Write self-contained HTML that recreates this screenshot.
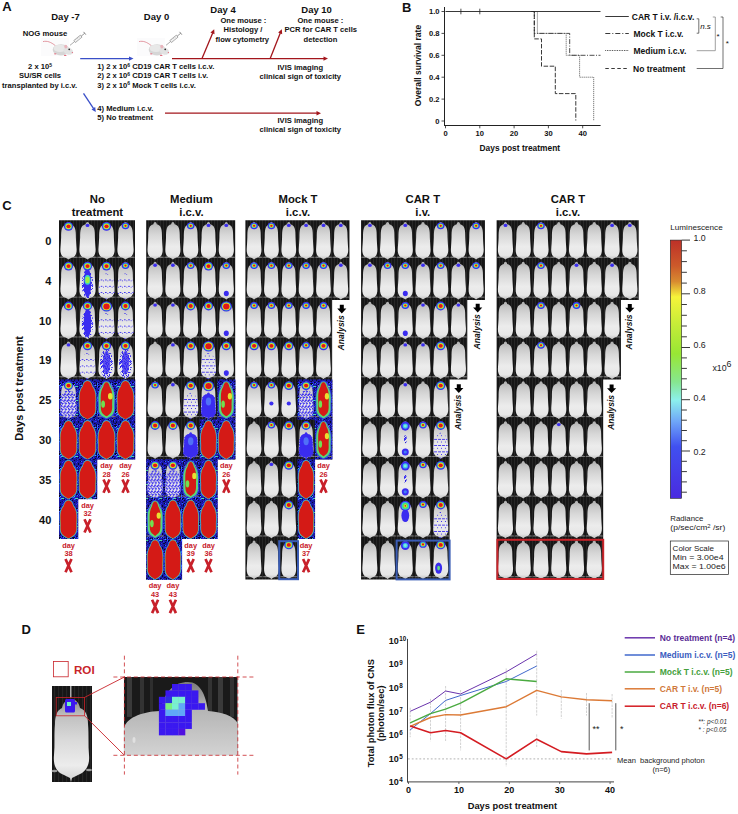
<!DOCTYPE html>
<html><head><meta charset="utf-8"><title>Figure</title>
<style>html,body{margin:0;padding:0;background:#fff;}svg{display:block;}text{font-family:"Liberation Sans",sans-serif;}</style>
</head><body>
<svg width="738" height="814" viewBox="0 0 738 814">
<defs><linearGradient id="mg" x1="0" y1="0" x2="0" y2="1"><stop offset="0" stop-color="#adadad"/><stop offset="0.15" stop-color="#c6c6c6"/><stop offset="0.35" stop-color="#d8d8d8"/><stop offset="0.65" stop-color="#ececec"/><stop offset="0.88" stop-color="#e6e6e6"/><stop offset="1" stop-color="#bebebe"/></linearGradient><symbol id="mouse" viewBox="0 0 100 100" preserveAspectRatio="none"><path d="M50 3 C55 3 58 5 60 9 C70 10 80 13 85 19 C90 26 90 34 90 42 C91 54 93 64 94 72 C95 82 90 89 78 93 C68 95 58 96 54 98 L50 100 L46 98 C42 96 32 95 22 93 C10 89 5 82 6 72 C7 64 9 54 10 42 C10 34 10 26 15 19 C20 13 30 10 40 9 C42 5 45 3 50 3 Z" fill="url(#mg)"/></symbol><symbol id="msil" viewBox="0 0 100 100" preserveAspectRatio="none"><path d="M50 3 C55 3 58 5 60 9 C70 10 80 13 85 19 C90 26 90 34 90 42 C91 54 93 64 94 72 C95 82 90 89 78 93 C68 95 58 96 54 98 L50 100 L46 98 C42 96 32 95 22 93 C10 89 5 82 6 72 C7 64 9 54 10 42 C10 34 10 26 15 19 C20 13 30 10 40 9 C42 5 45 3 50 3 Z"/></symbol><symbol id="rsil" viewBox="0 0 100 100" preserveAspectRatio="none"><path d="M50 2 C64 2 72 8 76 16 C88 22 95 32 95 46 C95 56 93 62 94 70 C96 84 84 92 64 96 L50 100 L36 96 C16 92 4 84 6 70 C7 62 5 56 5 46 C5 32 12 22 24 16 C28 8 36 2 50 2 Z"/></symbol><pattern id="spk" width="14" height="14" patternUnits="userSpaceOnUse" shape-rendering="crispEdges"><rect width="14" height="14" fill="#1a1aa4"/><rect x="8" y="2" width="1" height="1" fill="#0a0a30"/><rect x="9" y="7" width="1" height="1" fill="#3a3af8"/><rect x="1" y="9" width="1" height="1" fill="#3070ff"/><rect x="13" y="7" width="1" height="1" fill="#2c2cf0"/><rect x="3" y="3" width="1" height="1" fill="#0a0a30"/><rect x="7" y="8" width="1" height="1" fill="#50e0a0"/><rect x="7" y="6" width="1" height="1" fill="#2222d0"/><rect x="2" y="3" width="1" height="1" fill="#3070ff"/><rect x="13" y="8" width="1" height="1" fill="#3070ff"/><rect x="0" y="10" width="1" height="1" fill="#3a3af8"/><rect x="2" y="12" width="1" height="1" fill="#2222d0"/><rect x="0" y="4" width="1" height="1" fill="#101060"/><rect x="13" y="13" width="1" height="1" fill="#2222d0"/><rect x="9" y="11" width="1" height="1" fill="#0a0a30"/><rect x="6" y="11" width="1" height="1" fill="#101060"/><rect x="6" y="6" width="1" height="1" fill="#2222d0"/><rect x="9" y="7" width="1" height="1" fill="#2222d0"/><rect x="2" y="5" width="1" height="1" fill="#101060"/><rect x="2" y="7" width="1" height="1" fill="#2c2cf0"/><rect x="10" y="6" width="1" height="1" fill="#0a0a30"/><rect x="13" y="4" width="1" height="1" fill="#2222d0"/><rect x="13" y="6" width="1" height="1" fill="#3a3af8"/><rect x="8" y="9" width="1" height="1" fill="#06062a"/><rect x="3" y="5" width="1" height="1" fill="#3a3af8"/><rect x="0" y="13" width="1" height="1" fill="#3070ff"/><rect x="9" y="10" width="1" height="1" fill="#0a0a30"/><rect x="11" y="13" width="1" height="1" fill="#3070ff"/><rect x="8" y="9" width="1" height="1" fill="#0a0a30"/><rect x="11" y="10" width="1" height="1" fill="#06062a"/><rect x="13" y="9" width="1" height="1" fill="#0a0a30"/><rect x="1" y="1" width="1" height="1" fill="#0a0a30"/><rect x="10" y="7" width="1" height="1" fill="#3a3af8"/><rect x="12" y="1" width="1" height="1" fill="#2c2cf0"/><rect x="2" y="0" width="1" height="1" fill="#3a3af8"/><rect x="12" y="6" width="1" height="1" fill="#0a0a30"/><rect x="0" y="9" width="1" height="1" fill="#101060"/><rect x="0" y="6" width="1" height="1" fill="#06062a"/><rect x="5" y="8" width="1" height="1" fill="#40c0e0"/><rect x="4" y="8" width="1" height="1" fill="#101060"/><rect x="0" y="4" width="1" height="1" fill="#0a0a30"/><rect x="1" y="9" width="1" height="1" fill="#2c2cf0"/><rect x="3" y="6" width="1" height="1" fill="#06062a"/><rect x="4" y="2" width="1" height="1" fill="#0a0a30"/><rect x="13" y="5" width="1" height="1" fill="#3070ff"/><rect x="2" y="13" width="1" height="1" fill="#0a0a30"/><rect x="7" y="13" width="1" height="1" fill="#3a3af8"/><rect x="10" y="13" width="1" height="1" fill="#06062a"/><rect x="8" y="1" width="1" height="1" fill="#06062a"/><rect x="12" y="8" width="1" height="1" fill="#06062a"/><rect x="10" y="11" width="1" height="1" fill="#0a0a30"/><rect x="4" y="6" width="1" height="1" fill="#40c0e0"/><rect x="8" y="4" width="1" height="1" fill="#50e0a0"/><rect x="0" y="12" width="1" height="1" fill="#06062a"/><rect x="9" y="5" width="1" height="1" fill="#3a3af8"/><rect x="9" y="9" width="1" height="1" fill="#2c2cf0"/><rect x="0" y="10" width="1" height="1" fill="#3070ff"/><rect x="7" y="5" width="1" height="1" fill="#3070ff"/><rect x="5" y="9" width="1" height="1" fill="#3070ff"/><rect x="11" y="7" width="1" height="1" fill="#40c0e0"/><rect x="0" y="10" width="1" height="1" fill="#2c2cf0"/><rect x="5" y="4" width="1" height="1" fill="#2c2cf0"/><rect x="4" y="9" width="1" height="1" fill="#3070ff"/><rect x="2" y="5" width="1" height="1" fill="#06062a"/><rect x="12" y="5" width="1" height="1" fill="#0a0a30"/><rect x="4" y="4" width="1" height="1" fill="#2222d0"/><rect x="1" y="12" width="1" height="1" fill="#2222d0"/><rect x="9" y="10" width="1" height="1" fill="#2222d0"/><rect x="4" y="8" width="1" height="1" fill="#2222d0"/><rect x="12" y="4" width="1" height="1" fill="#0a0a30"/><rect x="2" y="10" width="1" height="1" fill="#0a0a30"/><rect x="11" y="1" width="1" height="1" fill="#3a3af8"/><rect x="5" y="5" width="1" height="1" fill="#2c2cf0"/><rect x="3" y="7" width="1" height="1" fill="#3070ff"/><rect x="2" y="1" width="1" height="1" fill="#2222d0"/><rect x="10" y="3" width="1" height="1" fill="#0a0a30"/><rect x="7" y="4" width="1" height="1" fill="#101060"/><rect x="1" y="0" width="1" height="1" fill="#0a0a30"/><rect x="3" y="5" width="1" height="1" fill="#06062a"/><rect x="13" y="9" width="1" height="1" fill="#2222d0"/><rect x="4" y="5" width="1" height="1" fill="#0a0a30"/><rect x="10" y="1" width="1" height="1" fill="#2222d0"/><rect x="5" y="9" width="1" height="1" fill="#2222d0"/><rect x="4" y="8" width="1" height="1" fill="#2c2cf0"/><rect x="4" y="7" width="1" height="1" fill="#2222d0"/><rect x="6" y="4" width="1" height="1" fill="#0a0a30"/><rect x="6" y="0" width="1" height="1" fill="#3a3af8"/><rect x="2" y="3" width="1" height="1" fill="#101060"/><rect x="13" y="9" width="1" height="1" fill="#2c2cf0"/><rect x="6" y="8" width="1" height="1" fill="#50e0a0"/><rect x="11" y="3" width="1" height="1" fill="#101060"/><rect x="7" y="13" width="1" height="1" fill="#2c2cf0"/><rect x="11" y="8" width="1" height="1" fill="#2222d0"/><rect x="8" y="5" width="1" height="1" fill="#101060"/><rect x="13" y="1" width="1" height="1" fill="#101060"/><rect x="4" y="1" width="1" height="1" fill="#101060"/><rect x="0" y="0" width="1" height="1" fill="#2222d0"/><rect x="11" y="8" width="1" height="1" fill="#101060"/><rect x="6" y="9" width="1" height="1" fill="#101060"/><rect x="7" y="11" width="1" height="1" fill="#2c2cf0"/><rect x="8" y="4" width="1" height="1" fill="#2c2cf0"/><rect x="0" y="8" width="1" height="1" fill="#0a0a30"/><rect x="0" y="9" width="1" height="1" fill="#06062a"/><rect x="2" y="4" width="1" height="1" fill="#2c2cf0"/><rect x="8" y="7" width="1" height="1" fill="#101060"/><rect x="0" y="5" width="1" height="1" fill="#2222d0"/><rect x="1" y="8" width="1" height="1" fill="#0a0a30"/><rect x="1" y="2" width="1" height="1" fill="#101060"/><rect x="4" y="12" width="1" height="1" fill="#0a0a30"/><rect x="0" y="7" width="1" height="1" fill="#2c2cf0"/><rect x="13" y="6" width="1" height="1" fill="#3070ff"/></pattern><pattern id="spl" width="23" height="23" patternUnits="userSpaceOnUse" shape-rendering="crispEdges"><rect x="19" y="8" width="1" height="1" fill="#3a2cf0"/><rect x="11" y="22" width="1" height="1" fill="#3a2cf0"/><rect x="20" y="16" width="1" height="1" fill="#3a2cf0"/><rect x="0" y="14" width="1" height="1" fill="#3a2cf0"/><rect x="7" y="20" width="1" height="1" fill="#3a2cf0"/><rect x="1" y="5" width="1" height="1" fill="#3a2cf0"/><rect x="3" y="11" width="1" height="1" fill="#3a2cf0"/><rect x="15" y="7" width="1" height="1" fill="#3a2cf0"/><rect x="12" y="17" width="1" height="1" fill="#3a2cf0"/><rect x="3" y="18" width="1" height="1" fill="#3a2cf0"/><rect x="7" y="0" width="1" height="1" fill="#3a2cf0"/><rect x="6" y="13" width="1" height="1" fill="#3a2cf0"/><rect x="8" y="5" width="1" height="1" fill="#3a2cf0"/><rect x="12" y="5" width="1" height="1" fill="#3a2cf0"/><rect x="2" y="4" width="1" height="1" fill="#3a2cf0"/><rect x="19" y="19" width="1" height="1" fill="#3a2cf0"/><rect x="14" y="4" width="1" height="1" fill="#3a2cf0"/><rect x="4" y="0" width="1" height="1" fill="#3a2cf0"/><rect x="0" y="6" width="1" height="1" fill="#3a2cf0"/><rect x="6" y="5" width="1" height="1" fill="#3a2cf0"/><rect x="5" y="9" width="1" height="1" fill="#3a2cf0"/><rect x="10" y="6" width="1" height="1" fill="#3a2cf0"/><rect x="17" y="21" width="1" height="1" fill="#3a2cf0"/><rect x="20" y="6" width="1" height="1" fill="#3a2cf0"/><rect x="5" y="22" width="1" height="1" fill="#3a2cf0"/><rect x="6" y="12" width="1" height="1" fill="#3a2cf0"/><rect x="9" y="0" width="1" height="1" fill="#3a2cf0"/><rect x="11" y="13" width="1" height="1" fill="#3a2cf0"/><rect x="5" y="4" width="1" height="1" fill="#3a2cf0"/><rect x="8" y="2" width="1" height="1" fill="#3a2cf0"/><rect x="10" y="9" width="1" height="1" fill="#3a2cf0"/><rect x="19" y="18" width="1" height="1" fill="#3a2cf0"/><rect x="0" y="19" width="1" height="1" fill="#3a2cf0"/><rect x="21" y="22" width="1" height="1" fill="#3a2cf0"/><rect x="10" y="2" width="1" height="1" fill="#3a2cf0"/><rect x="9" y="11" width="1" height="1" fill="#3a2cf0"/><rect x="9" y="15" width="1" height="1" fill="#3a2cf0"/><rect x="22" y="10" width="1" height="1" fill="#3a2cf0"/><rect x="5" y="15" width="1" height="1" fill="#3a2cf0"/><rect x="15" y="22" width="1" height="1" fill="#3a2cf0"/><rect x="5" y="1" width="1" height="1" fill="#3a2cf0"/><rect x="8" y="0" width="1" height="1" fill="#3a2cf0"/><rect x="11" y="12" width="1" height="1" fill="#3a2cf0"/><rect x="0" y="17" width="1" height="1" fill="#3a2cf0"/><rect x="13" y="11" width="1" height="1" fill="#3a2cf0"/><rect x="12" y="18" width="1" height="1" fill="#3a2cf0"/><rect x="0" y="14" width="1" height="1" fill="#3a2cf0"/><rect x="1" y="22" width="1" height="1" fill="#3a2cf0"/><rect x="5" y="19" width="1" height="1" fill="#3a2cf0"/><rect x="6" y="3" width="1" height="1" fill="#3a2cf0"/><rect x="7" y="14" width="1" height="1" fill="#3a2cf0"/><rect x="11" y="16" width="1" height="1" fill="#3a2cf0"/><rect x="11" y="16" width="1" height="1" fill="#3a2cf0"/><rect x="8" y="14" width="1" height="1" fill="#3a2cf0"/><rect x="3" y="18" width="1" height="1" fill="#3a2cf0"/><rect x="11" y="9" width="1" height="1" fill="#3a2cf0"/><rect x="1" y="13" width="1" height="1" fill="#3a2cf0"/><rect x="2" y="6" width="1" height="1" fill="#3a2cf0"/><rect x="10" y="16" width="1" height="1" fill="#3a2cf0"/><rect x="19" y="11" width="1" height="1" fill="#3a2cf0"/><rect x="4" y="10" width="1" height="1" fill="#3a2cf0"/><rect x="8" y="22" width="1" height="1" fill="#3a2cf0"/><rect x="17" y="2" width="1" height="1" fill="#3a2cf0"/><rect x="9" y="21" width="1" height="1" fill="#3a2cf0"/><rect x="10" y="9" width="1" height="1" fill="#3a2cf0"/><rect x="5" y="2" width="1" height="1" fill="#3a2cf0"/><rect x="20" y="4" width="1" height="1" fill="#3a2cf0"/><rect x="22" y="9" width="1" height="1" fill="#3a2cf0"/><rect x="15" y="5" width="1" height="1" fill="#3a2cf0"/><rect x="1" y="2" width="1" height="1" fill="#3a2cf0"/><rect x="19" y="17" width="1" height="1" fill="#3a2cf0"/><rect x="12" y="1" width="1" height="1" fill="#3a2cf0"/><rect x="7" y="19" width="1" height="1" fill="#3a2cf0"/><rect x="11" y="8" width="1" height="1" fill="#3a2cf0"/><rect x="14" y="20" width="1" height="1" fill="#3a2cf0"/></pattern><pattern id="spd" width="19" height="19" patternUnits="userSpaceOnUse" shape-rendering="crispEdges"><rect x="14" y="11" width="1" height="1" fill="#3a2cf0"/><rect x="4" y="5" width="1" height="1" fill="#3a2cf0"/><rect x="10" y="16" width="1" height="1" fill="#2a20d0"/><rect x="2" y="10" width="1" height="1" fill="#5050ff"/><rect x="1" y="12" width="1" height="1" fill="#3a2cf0"/><rect x="14" y="13" width="1" height="1" fill="#3a2cf0"/><rect x="5" y="7" width="1" height="1" fill="#3a2cf0"/><rect x="3" y="4" width="1" height="1" fill="#5050ff"/><rect x="18" y="2" width="1" height="1" fill="#2a20d0"/><rect x="3" y="9" width="1" height="1" fill="#3a2cf0"/><rect x="7" y="13" width="1" height="1" fill="#3a2cf0"/><rect x="8" y="6" width="1" height="1" fill="#2a20d0"/><rect x="8" y="10" width="1" height="1" fill="#3a2cf0"/><rect x="6" y="0" width="1" height="1" fill="#2a20d0"/><rect x="1" y="12" width="1" height="1" fill="#2a20d0"/><rect x="4" y="0" width="1" height="1" fill="#3a2cf0"/><rect x="13" y="3" width="1" height="1" fill="#5050ff"/><rect x="0" y="3" width="1" height="1" fill="#5050ff"/><rect x="6" y="6" width="1" height="1" fill="#3a2cf0"/><rect x="0" y="2" width="1" height="1" fill="#3a2cf0"/><rect x="17" y="0" width="1" height="1" fill="#5050ff"/><rect x="2" y="18" width="1" height="1" fill="#2a20d0"/><rect x="17" y="6" width="1" height="1" fill="#2a20d0"/><rect x="2" y="12" width="1" height="1" fill="#3a2cf0"/><rect x="2" y="18" width="1" height="1" fill="#3a2cf0"/><rect x="5" y="1" width="1" height="1" fill="#3a2cf0"/><rect x="8" y="17" width="1" height="1" fill="#5050ff"/><rect x="4" y="8" width="1" height="1" fill="#5050ff"/><rect x="1" y="3" width="1" height="1" fill="#2a20d0"/><rect x="7" y="5" width="1" height="1" fill="#5050ff"/><rect x="16" y="1" width="1" height="1" fill="#3a2cf0"/><rect x="16" y="18" width="1" height="1" fill="#5050ff"/><rect x="2" y="11" width="1" height="1" fill="#3a2cf0"/><rect x="18" y="11" width="1" height="1" fill="#2a20d0"/><rect x="6" y="12" width="1" height="1" fill="#3a2cf0"/><rect x="18" y="0" width="1" height="1" fill="#2a20d0"/><rect x="10" y="0" width="1" height="1" fill="#2a20d0"/><rect x="3" y="6" width="1" height="1" fill="#3a2cf0"/><rect x="14" y="8" width="1" height="1" fill="#3a2cf0"/><rect x="2" y="9" width="1" height="1" fill="#3a2cf0"/><rect x="3" y="16" width="1" height="1" fill="#3a2cf0"/><rect x="0" y="12" width="1" height="1" fill="#5050ff"/><rect x="13" y="15" width="1" height="1" fill="#3a2cf0"/><rect x="7" y="18" width="1" height="1" fill="#3a2cf0"/><rect x="13" y="7" width="1" height="1" fill="#3a2cf0"/><rect x="12" y="16" width="1" height="1" fill="#3a2cf0"/><rect x="17" y="11" width="1" height="1" fill="#3a2cf0"/><rect x="9" y="5" width="1" height="1" fill="#3a2cf0"/><rect x="0" y="1" width="1" height="1" fill="#3a2cf0"/><rect x="8" y="5" width="1" height="1" fill="#3a2cf0"/><rect x="4" y="0" width="1" height="1" fill="#3a2cf0"/><rect x="1" y="14" width="1" height="1" fill="#3a2cf0"/><rect x="12" y="9" width="1" height="1" fill="#5050ff"/><rect x="0" y="11" width="1" height="1" fill="#3a2cf0"/><rect x="4" y="15" width="1" height="1" fill="#5050ff"/><rect x="8" y="4" width="1" height="1" fill="#3a2cf0"/><rect x="17" y="9" width="1" height="1" fill="#3a2cf0"/><rect x="2" y="13" width="1" height="1" fill="#2a20d0"/><rect x="4" y="17" width="1" height="1" fill="#2a20d0"/><rect x="18" y="5" width="1" height="1" fill="#3a2cf0"/><rect x="15" y="11" width="1" height="1" fill="#3a2cf0"/><rect x="1" y="8" width="1" height="1" fill="#5050ff"/><rect x="4" y="5" width="1" height="1" fill="#3a2cf0"/><rect x="5" y="7" width="1" height="1" fill="#3a2cf0"/><rect x="6" y="5" width="1" height="1" fill="#2a20d0"/><rect x="14" y="18" width="1" height="1" fill="#5050ff"/><rect x="17" y="12" width="1" height="1" fill="#3a2cf0"/><rect x="5" y="17" width="1" height="1" fill="#2a20d0"/><rect x="18" y="8" width="1" height="1" fill="#5050ff"/><rect x="2" y="0" width="1" height="1" fill="#5050ff"/><rect x="18" y="13" width="1" height="1" fill="#5050ff"/><rect x="9" y="16" width="1" height="1" fill="#5050ff"/><rect x="17" y="2" width="1" height="1" fill="#5050ff"/><rect x="17" y="9" width="1" height="1" fill="#3a2cf0"/><rect x="7" y="4" width="1" height="1" fill="#3a2cf0"/><rect x="3" y="15" width="1" height="1" fill="#2a20d0"/><rect x="1" y="15" width="1" height="1" fill="#3a2cf0"/><rect x="0" y="11" width="1" height="1" fill="#3a2cf0"/><rect x="14" y="7" width="1" height="1" fill="#3a2cf0"/><rect x="18" y="15" width="1" height="1" fill="#3a2cf0"/><rect x="1" y="2" width="1" height="1" fill="#5050ff"/><rect x="1" y="13" width="1" height="1" fill="#2a20d0"/><rect x="18" y="2" width="1" height="1" fill="#3a2cf0"/><rect x="6" y="1" width="1" height="1" fill="#5050ff"/><rect x="5" y="2" width="1" height="1" fill="#3a2cf0"/><rect x="0" y="11" width="1" height="1" fill="#5050ff"/><rect x="15" y="17" width="1" height="1" fill="#5050ff"/><rect x="15" y="0" width="1" height="1" fill="#3a2cf0"/><rect x="10" y="2" width="1" height="1" fill="#3a2cf0"/><rect x="0" y="14" width="1" height="1" fill="#2a20d0"/><rect x="18" y="4" width="1" height="1" fill="#2a20d0"/><rect x="15" y="4" width="1" height="1" fill="#3a2cf0"/><rect x="11" y="7" width="1" height="1" fill="#2a20d0"/><rect x="4" y="6" width="1" height="1" fill="#3a2cf0"/><rect x="3" y="3" width="1" height="1" fill="#3a2cf0"/><rect x="3" y="2" width="1" height="1" fill="#3a2cf0"/><rect x="11" y="3" width="1" height="1" fill="#3a2cf0"/><rect x="14" y="16" width="1" height="1" fill="#3a2cf0"/><rect x="11" y="2" width="1" height="1" fill="#3a2cf0"/><rect x="0" y="8" width="1" height="1" fill="#5050ff"/><rect x="6" y="0" width="1" height="1" fill="#2a20d0"/><rect x="8" y="0" width="1" height="1" fill="#3a2cf0"/><rect x="16" y="13" width="1" height="1" fill="#3a2cf0"/><rect x="8" y="15" width="1" height="1" fill="#3a2cf0"/><rect x="7" y="1" width="1" height="1" fill="#3a2cf0"/><rect x="4" y="9" width="1" height="1" fill="#3a2cf0"/><rect x="5" y="11" width="1" height="1" fill="#2a20d0"/><rect x="0" y="9" width="1" height="1" fill="#3a2cf0"/><rect x="0" y="10" width="1" height="1" fill="#2a20d0"/><rect x="7" y="13" width="1" height="1" fill="#5050ff"/><rect x="10" y="15" width="1" height="1" fill="#5050ff"/><rect x="11" y="12" width="1" height="1" fill="#2a20d0"/><rect x="6" y="2" width="1" height="1" fill="#3a2cf0"/><rect x="9" y="14" width="1" height="1" fill="#2a20d0"/><rect x="18" y="14" width="1" height="1" fill="#2a20d0"/><rect x="12" y="5" width="1" height="1" fill="#3a2cf0"/><rect x="12" y="1" width="1" height="1" fill="#3a2cf0"/><rect x="2" y="5" width="1" height="1" fill="#3a2cf0"/><rect x="17" y="0" width="1" height="1" fill="#3a2cf0"/><rect x="6" y="11" width="1" height="1" fill="#3a2cf0"/><rect x="2" y="10" width="1" height="1" fill="#2a20d0"/><rect x="12" y="6" width="1" height="1" fill="#5050ff"/><rect x="10" y="2" width="1" height="1" fill="#3a2cf0"/><rect x="17" y="13" width="1" height="1" fill="#2a20d0"/><rect x="7" y="10" width="1" height="1" fill="#5050ff"/><rect x="16" y="3" width="1" height="1" fill="#2a20d0"/><rect x="0" y="9" width="1" height="1" fill="#5050ff"/><rect x="6" y="2" width="1" height="1" fill="#3a2cf0"/><rect x="0" y="10" width="1" height="1" fill="#3a2cf0"/><rect x="2" y="4" width="1" height="1" fill="#3a2cf0"/><rect x="5" y="3" width="1" height="1" fill="#5050ff"/><rect x="12" y="12" width="1" height="1" fill="#2a20d0"/><rect x="18" y="16" width="1" height="1" fill="#3a2cf0"/><rect x="16" y="11" width="1" height="1" fill="#3a2cf0"/><rect x="8" y="6" width="1" height="1" fill="#3a2cf0"/><rect x="12" y="18" width="1" height="1" fill="#3a2cf0"/><rect x="5" y="18" width="1" height="1" fill="#3a2cf0"/><rect x="0" y="9" width="1" height="1" fill="#3a2cf0"/><rect x="8" y="15" width="1" height="1" fill="#5050ff"/><rect x="13" y="2" width="1" height="1" fill="#3a2cf0"/><rect x="9" y="4" width="1" height="1" fill="#5050ff"/><rect x="14" y="15" width="1" height="1" fill="#3a2cf0"/><rect x="5" y="10" width="1" height="1" fill="#3a2cf0"/><rect x="11" y="1" width="1" height="1" fill="#5050ff"/><rect x="8" y="11" width="1" height="1" fill="#3a2cf0"/><rect x="18" y="5" width="1" height="1" fill="#5050ff"/><rect x="3" y="14" width="1" height="1" fill="#3a2cf0"/><rect x="10" y="6" width="1" height="1" fill="#5050ff"/><rect x="4" y="13" width="1" height="1" fill="#3a2cf0"/><rect x="16" y="6" width="1" height="1" fill="#5050ff"/><rect x="13" y="0" width="1" height="1" fill="#5050ff"/><rect x="1" y="11" width="1" height="1" fill="#2a20d0"/><rect x="11" y="1" width="1" height="1" fill="#3a2cf0"/><rect x="12" y="14" width="1" height="1" fill="#2a20d0"/><rect x="6" y="17" width="1" height="1" fill="#3a2cf0"/><rect x="5" y="18" width="1" height="1" fill="#3a2cf0"/><rect x="11" y="8" width="1" height="1" fill="#3a2cf0"/><rect x="15" y="16" width="1" height="1" fill="#3a2cf0"/><rect x="16" y="0" width="1" height="1" fill="#5050ff"/><rect x="10" y="7" width="1" height="1" fill="#3a2cf0"/><rect x="0" y="1" width="1" height="1" fill="#5050ff"/><rect x="18" y="6" width="1" height="1" fill="#3a2cf0"/><rect x="9" y="4" width="1" height="1" fill="#3a2cf0"/><rect x="9" y="12" width="1" height="1" fill="#3a2cf0"/><rect x="2" y="12" width="1" height="1" fill="#3a2cf0"/><rect x="14" y="14" width="1" height="1" fill="#3a2cf0"/><rect x="10" y="5" width="1" height="1" fill="#3a2cf0"/><rect x="18" y="6" width="1" height="1" fill="#5050ff"/><rect x="18" y="12" width="1" height="1" fill="#5050ff"/><rect x="4" y="12" width="1" height="1" fill="#3a2cf0"/><rect x="12" y="4" width="1" height="1" fill="#3a2cf0"/><rect x="13" y="15" width="1" height="1" fill="#3a2cf0"/><rect x="3" y="16" width="1" height="1" fill="#2a20d0"/><rect x="16" y="8" width="1" height="1" fill="#3a2cf0"/><rect x="11" y="11" width="1" height="1" fill="#5050ff"/><rect x="0" y="6" width="1" height="1" fill="#3a2cf0"/><rect x="16" y="14" width="1" height="1" fill="#3a2cf0"/><rect x="3" y="6" width="1" height="1" fill="#3a2cf0"/><rect x="6" y="14" width="1" height="1" fill="#3a2cf0"/><rect x="8" y="9" width="1" height="1" fill="#3a2cf0"/><rect x="7" y="0" width="1" height="1" fill="#3a2cf0"/><rect x="13" y="8" width="1" height="1" fill="#3a2cf0"/><rect x="11" y="10" width="1" height="1" fill="#5050ff"/><rect x="5" y="17" width="1" height="1" fill="#3a2cf0"/><rect x="4" y="6" width="1" height="1" fill="#3a2cf0"/><rect x="1" y="6" width="1" height="1" fill="#3a2cf0"/><rect x="8" y="14" width="1" height="1" fill="#3a2cf0"/><rect x="11" y="17" width="1" height="1" fill="#3a2cf0"/><rect x="3" y="13" width="1" height="1" fill="#2a20d0"/><rect x="5" y="1" width="1" height="1" fill="#3a2cf0"/><rect x="18" y="4" width="1" height="1" fill="#5050ff"/><rect x="18" y="13" width="1" height="1" fill="#3a2cf0"/><rect x="6" y="11" width="1" height="1" fill="#5050ff"/><rect x="16" y="13" width="1" height="1" fill="#3a2cf0"/><rect x="5" y="17" width="1" height="1" fill="#3a2cf0"/><rect x="8" y="14" width="1" height="1" fill="#3a2cf0"/><rect x="9" y="13" width="1" height="1" fill="#5050ff"/><rect x="13" y="3" width="1" height="1" fill="#3a2cf0"/><rect x="11" y="7" width="1" height="1" fill="#2a20d0"/><rect x="8" y="11" width="1" height="1" fill="#2a20d0"/></pattern><pattern id="bgp" width="3" height="40" patternUnits="userSpaceOnUse"><rect width="3" height="40" fill="#161616"/><rect x="1" width="1" height="40" fill="#262626"/></pattern></defs>
<rect width="738" height="814" fill="#fff"/>
<text x="2.3" y="10.9" font-size="13" font-weight="bold" text-anchor="start" fill="#111" >A</text><text x="65.5" y="20.3" font-size="9.5" font-weight="bold" text-anchor="middle" fill="#111" >Day -7</text><text x="156.5" y="20.3" font-size="9.5" font-weight="bold" text-anchor="middle" fill="#111" >Day 0</text><text x="223.0" y="13.2" font-size="9.5" font-weight="bold" text-anchor="middle" fill="#111" >Day 4</text><text x="316.6" y="13.2" font-size="9.5" font-weight="bold" text-anchor="middle" fill="#111" >Day 10</text><text x="45.0" y="36.0" font-size="7.7" font-weight="bold" text-anchor="middle" fill="#111" >NOG mouse</text><text x="40.0" y="69.2" font-size="7.6" font-weight="bold" text-anchor="middle" fill="#111" >2 x 10<tspan dy="-2.5" font-size="5">5</tspan></text><text x="40.0" y="78.3" font-size="7.6" font-weight="bold" text-anchor="middle" fill="#111" >SU/SR cells</text><text x="39.6" y="87.5" font-size="7.6" font-weight="bold" text-anchor="middle" fill="#111" >transplanted by i.c.v.</text><text x="97.3" y="69.3" font-size="7.6" font-weight="bold" text-anchor="start" fill="#111" >1) 2 x 10<tspan dy="-2.5" font-size="5">6</tspan><tspan dy="2.5"> CD19 CAR T cells i.c.v.</tspan></text><text x="97.3" y="78.3" font-size="7.6" font-weight="bold" text-anchor="start" fill="#111" >2) 2 x 10<tspan dy="-2.5" font-size="5">6</tspan><tspan dy="2.5"> CD19 CAR T cells i.v.</tspan></text><text x="97.3" y="87.5" font-size="7.6" font-weight="bold" text-anchor="start" fill="#111" >3) 2 x 10<tspan dy="-2.5" font-size="5">6</tspan><tspan dy="2.5"> Mock T cells i.c.v.</tspan></text><text x="97.3" y="111.1" font-size="7.6" font-weight="bold" text-anchor="start" fill="#111" >4) Medium i.c.v.</text><text x="97.3" y="120.0" font-size="7.6" font-weight="bold" text-anchor="start" fill="#111" >5) No treatment</text><text x="243.4" y="23.0" font-size="7.6" font-weight="bold" text-anchor="middle" fill="#111" >One mouse :</text><text x="243.0" y="32.4" font-size="7.6" font-weight="bold" text-anchor="middle" fill="#111" >Histology /</text><text x="242.3" y="41.5" font-size="7.6" font-weight="bold" text-anchor="middle" fill="#111" >flow cytometry</text><text x="320.4" y="23.0" font-size="7.6" font-weight="bold" text-anchor="middle" fill="#111" >One mouse :</text><text x="320.7" y="32.4" font-size="7.6" font-weight="bold" text-anchor="middle" fill="#111" >PCR for CAR T cells</text><text x="320.5" y="41.5" font-size="7.6" font-weight="bold" text-anchor="middle" fill="#111" >detection</text><text x="300.3" y="69.5" font-size="7.6" font-weight="bold" text-anchor="middle" fill="#111" >IVIS imaging</text><text x="300.3" y="78.6" font-size="7.6" font-weight="bold" text-anchor="middle" fill="#111" >clinical sign of toxicity</text><text x="300.3" y="123.0" font-size="7.6" font-weight="bold" text-anchor="middle" fill="#111" >IVIS imaging</text><text x="300.3" y="132.3" font-size="7.6" font-weight="bold" text-anchor="middle" fill="#111" >clinical sign of toxicity</text><line x1="80.2" y1="58.6" x2="129.5" y2="58.6" stroke="#3a4fc8" stroke-width="1.3" /><polygon points="133.5,58.6 129.0,60.8 129.0,56.4" fill="#3a4fc8"/><line x1="83.5" y1="93.3" x2="93.6" y2="108.7" stroke="#3a4fc8" stroke-width="1.3" /><polygon points="95.8,112.0 91.5,109.4 95.2,107.0" fill="#3a4fc8"/><line x1="172.0" y1="58.6" x2="324.0" y2="58.6" stroke="#a3161c" stroke-width="1.3" /><polygon points="328.0,58.6 323.5,60.8 323.5,56.4" fill="#a3161c"/><line x1="202.0" y1="58.6" x2="212.7" y2="32.9" stroke="#a3161c" stroke-width="1.3" /><polygon points="214.2,29.2 214.5,34.2 210.4,32.5" fill="#a3161c"/><line x1="270.2" y1="58.6" x2="280.3" y2="32.9" stroke="#a3161c" stroke-width="1.3" /><polygon points="281.8,29.2 282.2,34.2 278.1,32.6" fill="#a3161c"/><line x1="165.0" y1="113.2" x2="317.0" y2="113.2" stroke="#a3161c" stroke-width="1.3" /><polygon points="321.0,113.2 316.5,115.4 316.5,111.0" fill="#a3161c"/><g transform="translate(41,32)"><rect x="0" y="6" width="28" height="18" fill="#fbfbfc"/><path d="M2 9.6 C6 8.6 10 10 14.5 13.8" stroke="#d8707c" stroke-width="0.7" fill="none"/><ellipse cx="20" cy="17.8" rx="8.3" ry="5.6" fill="#d6d6d6"/><ellipse cx="19" cy="16.4" rx="6.2" ry="3.6" fill="#e8e8e8"/><ellipse cx="27.2" cy="19" rx="5" ry="3.6" fill="#e2e2e2" transform="rotate(22 27.2 19)"/><ellipse cx="24.8" cy="14.6" rx="1.5" ry="1.9" fill="#e9b4bc"/><circle cx="28.2" cy="17.4" r="0.8" fill="#222"/><circle cx="31.4" cy="20.6" r="0.7" fill="#e07080"/><ellipse cx="14.2" cy="21.8" rx="1.3" ry="0.6" fill="#e07080"/><ellipse cx="24.2" cy="23.4" rx="1.3" ry="0.6" fill="#e07080"/><g transform="translate(29,13.3) rotate(-39.3)"><line x1="0" y1="0" x2="6" y2="0" stroke="#555" stroke-width="0.45"/><rect x="6" y="-1.3" width="8.5" height="2.6" fill="#f2f2f2" stroke="#707070" stroke-width="0.5"/><path d="M8 -1.3 v1.2 M10 -1.3 v1.2 M12 -1.3 v1.2" stroke="#888" stroke-width="0.35"/><line x1="14.5" y1="0" x2="19" y2="0" stroke="#777" stroke-width="0.7"/><line x1="19" y1="-1.8" x2="19" y2="1.8" stroke="#777" stroke-width="0.8"/></g></g><g transform="translate(137,32)"><rect x="0" y="6" width="28" height="18" fill="#fbfbfc"/><path d="M2 9.6 C6 8.6 10 10 14.5 13.8" stroke="#d8707c" stroke-width="0.7" fill="none"/><ellipse cx="20" cy="17.8" rx="8.3" ry="5.6" fill="#d6d6d6"/><ellipse cx="19" cy="16.4" rx="6.2" ry="3.6" fill="#e8e8e8"/><ellipse cx="27.2" cy="19" rx="5" ry="3.6" fill="#e2e2e2" transform="rotate(22 27.2 19)"/><ellipse cx="24.8" cy="14.6" rx="1.5" ry="1.9" fill="#e9b4bc"/><circle cx="28.2" cy="17.4" r="0.8" fill="#222"/><circle cx="31.4" cy="20.6" r="0.7" fill="#e07080"/><ellipse cx="14.2" cy="21.8" rx="1.3" ry="0.6" fill="#e07080"/><ellipse cx="24.2" cy="23.4" rx="1.3" ry="0.6" fill="#e07080"/><g transform="translate(29,13.3) rotate(-39.3)"><line x1="0" y1="0" x2="6" y2="0" stroke="#555" stroke-width="0.45"/><rect x="6" y="-1.3" width="8.5" height="2.6" fill="#f2f2f2" stroke="#707070" stroke-width="0.5"/><path d="M8 -1.3 v1.2 M10 -1.3 v1.2 M12 -1.3 v1.2" stroke="#888" stroke-width="0.35"/><line x1="14.5" y1="0" x2="19" y2="0" stroke="#777" stroke-width="0.7"/><line x1="19" y1="-1.8" x2="19" y2="1.8" stroke="#777" stroke-width="0.8"/></g></g><text x="402.0" y="12.2" font-size="13" font-weight="bold" text-anchor="start" fill="#111" >B</text><line x1="444.5" y1="7.0" x2="444.5" y2="125.7" stroke="#222" stroke-width="1" /><line x1="444.0" y1="125.5" x2="600.6" y2="125.5" stroke="#222" stroke-width="1" /><line x1="441.5" y1="121.0" x2="444.5" y2="121.0" stroke="#222" stroke-width="0.8" /><text x="439.5" y="123.6" font-size="7.6" font-weight="bold" text-anchor="end" fill="#111" >0</text><line x1="441.5" y1="99.1" x2="444.5" y2="99.1" stroke="#222" stroke-width="0.8" /><text x="439.5" y="101.7" font-size="7.6" font-weight="bold" text-anchor="end" fill="#111" >0.2</text><line x1="441.5" y1="77.2" x2="444.5" y2="77.2" stroke="#222" stroke-width="0.8" /><text x="439.5" y="79.8" font-size="7.6" font-weight="bold" text-anchor="end" fill="#111" >0.4</text><line x1="441.5" y1="55.3" x2="444.5" y2="55.3" stroke="#222" stroke-width="0.8" /><text x="439.5" y="57.9" font-size="7.6" font-weight="bold" text-anchor="end" fill="#111" >0.6</text><line x1="441.5" y1="33.4" x2="444.5" y2="33.4" stroke="#222" stroke-width="0.8" /><text x="439.5" y="36.0" font-size="7.6" font-weight="bold" text-anchor="end" fill="#111" >0.8</text><line x1="441.5" y1="11.5" x2="444.5" y2="11.5" stroke="#222" stroke-width="0.8" /><text x="439.5" y="14.1" font-size="7.6" font-weight="bold" text-anchor="end" fill="#111" >1.0</text><line x1="445.5" y1="125.5" x2="445.5" y2="128.3" stroke="#222" stroke-width="0.8" /><text x="445.5" y="135.5" font-size="7.6" font-weight="bold" text-anchor="middle" fill="#111" >0</text><line x1="479.8" y1="125.5" x2="479.8" y2="128.3" stroke="#222" stroke-width="0.8" /><text x="479.8" y="135.5" font-size="7.6" font-weight="bold" text-anchor="middle" fill="#111" >10</text><line x1="514.1" y1="125.5" x2="514.1" y2="128.3" stroke="#222" stroke-width="0.8" /><text x="514.1" y="135.5" font-size="7.6" font-weight="bold" text-anchor="middle" fill="#111" >20</text><line x1="548.4" y1="125.5" x2="548.4" y2="128.3" stroke="#222" stroke-width="0.8" /><text x="548.4" y="135.5" font-size="7.6" font-weight="bold" text-anchor="middle" fill="#111" >30</text><line x1="582.7" y1="125.5" x2="582.7" y2="128.3" stroke="#222" stroke-width="0.8" /><text x="582.7" y="135.5" font-size="7.6" font-weight="bold" text-anchor="middle" fill="#111" >40</text><text x="519.8" y="150.9" font-size="8.4" font-weight="bold" text-anchor="middle" fill="#111" >Days post treatment</text><text transform="translate(421.2,65.5) rotate(-90)" font-size="8.5" font-weight="bold" text-anchor="middle" fill="#111">Overall survival rate</text><path d="M445.5 11.5 H600.5" stroke="#222" stroke-width="0.9" fill="none"/><line x1="460.9" y1="8.7" x2="460.9" y2="14.3" stroke="#222" stroke-width="0.8" /><line x1="479.8" y1="8.7" x2="479.8" y2="14.3" stroke="#222" stroke-width="0.8" /><path d="M531.2 11.5 H534.3 V38.9 H541.5 V66.2 H555.3 V93.6 H575.8 V120.5" stroke="#222" stroke-width="0.9" fill="none" stroke-dasharray="4.5,1.6"/><path d="M534.3 11.5 V33.4 H569.7 V55.3 H600.5" stroke="#222" stroke-width="0.8" fill="none" stroke-dasharray="5,1.5,1,1.5"/><path d="M537.4 11.5 V33.4 H566.2 V55.3 H579.6 V77.2 H593.7 V120.5" stroke="#333" stroke-width="0.8" fill="none" stroke-dasharray="1,1"/><line x1="605.3" y1="16.5" x2="628.8" y2="16.5" stroke="#222" stroke-width="0.9" /><text x="631.8" y="19.5" font-size="8.5" font-weight="bold" text-anchor="start" fill="#111" >CAR T i.v. /i.c.v.</text><line x1="605.3" y1="33.5" x2="628.8" y2="33.5" stroke="#222" stroke-width="0.9" stroke-dasharray="5,2,1,2"/><text x="633.5" y="36.5" font-size="8.5" font-weight="bold" text-anchor="start" fill="#111" >Mock T i.c.v.</text><line x1="605.3" y1="50.5" x2="628.8" y2="50.5" stroke="#222" stroke-width="0.9" stroke-dasharray="0.8,0.9"/><text x="633.5" y="53.5" font-size="8.5" font-weight="bold" text-anchor="start" fill="#111" >Medium i.c.v.</text><line x1="605.3" y1="68.5" x2="628.8" y2="68.5" stroke="#222" stroke-width="0.9" stroke-dasharray="3.5,2.5"/><text x="633.0" y="71.5" font-size="8.5" font-weight="bold" text-anchor="start" fill="#111" >No treatment</text><path d="M696.7 18.8 H698.8 V33.2 H696.7" stroke="#333" stroke-width="0.7" fill="none"/><text x="700.2" y="28.8" font-size="8.0"  text-anchor="start" fill="#111" font-style="italic">n.s</text><path d="M712.8 17 H715.3 V50.7 H696.7" stroke="#888" stroke-width="0.8" fill="none"/><text x="716.6" y="38.5" font-size="8"  text-anchor="start" fill="#111" >*</text><path d="M720.7 17 H723 V68.5 H696.7" stroke="#333" stroke-width="0.7" fill="none"/><text x="725.8" y="45.8" font-size="8"  text-anchor="start" fill="#111" >*</text>
<text x="2.2" y="210.2" font-size="13" font-weight="bold" fill="#111">C</text><text x="97.4" y="203" font-size="11.3" font-weight="bold" text-anchor="middle" fill="#111">No</text><text x="97.4" y="216.4" font-size="11.3" font-weight="bold" text-anchor="middle" fill="#111">treatment</text><path d="M59.00 220.20 L135.00 220.20 L135.00 260.00 L135.00 260.00 L135.00 299.90 L135.00 299.90 L135.00 339.70 L135.00 339.70 L135.00 379.50 L135.00 379.50 L135.00 419.40 L135.00 419.40 L135.00 459.20 L97.00 459.20 L97.00 498.90 L78.00 498.90 L78.00 538.70 L59.00 538.70 Z" fill="url(#bgp)"/><ellipse cx="62.04" cy="257.21" rx="3.04" ry="0.7" fill="#7a7a7a"/><ellipse cx="74.96" cy="257.21" rx="3.04" ry="0.7" fill="#7a7a7a"/><use href="#mouse" x="59.30" y="220.80" width="18.40" height="39.00"/><ellipse cx="68.5" cy="226.3" rx="4.6" ry="4.4" fill="#3a2cf0"/><ellipse cx="68.5" cy="226.3" rx="3.5" ry="3.3" fill="#30d8a0"/><ellipse cx="68.5" cy="226.3" rx="2.8" ry="2.6" fill="#f0e020"/><ellipse cx="68.5" cy="226.3" rx="2.1" ry="1.9" fill="#e01818"/><ellipse cx="81.04" cy="257.21" rx="3.04" ry="0.7" fill="#7a7a7a"/><ellipse cx="93.96" cy="257.21" rx="3.04" ry="0.7" fill="#7a7a7a"/><use href="#mouse" x="78.30" y="220.80" width="18.40" height="39.00"/><ellipse cx="87.5" cy="225.4" rx="1.9" ry="1.7" fill="#3a2cf0"/><ellipse cx="100.04" cy="257.21" rx="3.04" ry="0.7" fill="#7a7a7a"/><ellipse cx="112.96" cy="257.21" rx="3.04" ry="0.7" fill="#7a7a7a"/><use href="#mouse" x="97.30" y="220.80" width="18.40" height="39.00"/><ellipse cx="106.5" cy="226.3" rx="4.6" ry="4.4" fill="#3a2cf0"/><ellipse cx="106.5" cy="226.3" rx="3.5" ry="3.3" fill="#30d8a0"/><ellipse cx="106.5" cy="226.3" rx="2.8" ry="2.6" fill="#f0e020"/><ellipse cx="106.5" cy="226.3" rx="2.1" ry="1.9" fill="#e01818"/><ellipse cx="119.04" cy="257.21" rx="3.04" ry="0.7" fill="#7a7a7a"/><ellipse cx="131.96" cy="257.21" rx="3.04" ry="0.7" fill="#7a7a7a"/><use href="#mouse" x="116.30" y="220.80" width="18.40" height="39.00"/><ellipse cx="125.5" cy="225.8" rx="3.8" ry="3.4" fill="#3a2cf0"/><ellipse cx="125.5" cy="225.8" rx="2.6" ry="2.3" fill="#30d8b0"/><ellipse cx="125.5" cy="225.8" rx="1.9" ry="1.7" fill="#f0e020"/><ellipse cx="125.5" cy="225.8" rx="1.2" ry="1.1" fill="#e01818"/><ellipse cx="62.04" cy="297.11" rx="3.04" ry="0.7" fill="#7a7a7a"/><ellipse cx="74.96" cy="297.11" rx="3.04" ry="0.7" fill="#7a7a7a"/><use href="#mouse" x="59.30" y="260.60" width="18.40" height="39.10"/><ellipse cx="68.5" cy="266.1" rx="4.6" ry="4.4" fill="#3a2cf0"/><ellipse cx="68.5" cy="266.1" rx="3.5" ry="3.3" fill="#30d8a0"/><ellipse cx="68.5" cy="266.1" rx="2.8" ry="2.6" fill="#f0e020"/><ellipse cx="68.5" cy="266.1" rx="2.1" ry="1.9" fill="#e01818"/><ellipse cx="81.04" cy="297.11" rx="3.04" ry="0.7" fill="#7a7a7a"/><ellipse cx="93.96" cy="297.11" rx="3.04" ry="0.7" fill="#7a7a7a"/><use href="#mouse" x="78.30" y="260.60" width="18.40" height="39.10"/><ellipse cx="87.5" cy="283.9" rx="5.7" ry="14.4" fill="url(#spd)"/><ellipse cx="87.5" cy="283.1" rx="3.8" ry="14.4" fill="#3a2cf0"/><ellipse cx="87.5" cy="279.9" rx="3.0" ry="4.8" fill="#40d8c0"/><ellipse cx="87.5" cy="279.9" rx="2.1" ry="3.2" fill="#a0f040"/><ellipse cx="87.5" cy="266.1" rx="4.6" ry="4.4" fill="#3a2cf0"/><ellipse cx="87.5" cy="266.1" rx="3.5" ry="3.3" fill="#30d8a0"/><ellipse cx="87.5" cy="266.1" rx="2.8" ry="2.6" fill="#f0e020"/><ellipse cx="87.5" cy="266.1" rx="2.1" ry="1.9" fill="#e01818"/><ellipse cx="100.04" cy="297.11" rx="3.04" ry="0.7" fill="#7a7a7a"/><ellipse cx="112.96" cy="297.11" rx="3.04" ry="0.7" fill="#7a7a7a"/><use href="#mouse" x="97.30" y="260.60" width="18.40" height="39.10"/><use href="#msil" x="97.30" y="272.33" width="18.40" height="27.37" fill="url(#spl)"/><ellipse cx="106.5" cy="266.1" rx="4.6" ry="4.4" fill="#3a2cf0"/><ellipse cx="106.5" cy="266.1" rx="3.5" ry="3.3" fill="#30d8a0"/><ellipse cx="106.5" cy="266.1" rx="2.8" ry="2.6" fill="#f0e020"/><ellipse cx="106.5" cy="266.1" rx="2.1" ry="1.9" fill="#e01818"/><ellipse cx="119.04" cy="297.11" rx="3.04" ry="0.7" fill="#7a7a7a"/><ellipse cx="131.96" cy="297.11" rx="3.04" ry="0.7" fill="#7a7a7a"/><use href="#mouse" x="116.30" y="260.60" width="18.40" height="39.10"/><use href="#msil" x="116.30" y="272.33" width="18.40" height="27.37" fill="url(#spl)"/><ellipse cx="125.5" cy="265.6" rx="3.8" ry="3.4" fill="#3a2cf0"/><ellipse cx="125.5" cy="265.6" rx="2.6" ry="2.3" fill="#30d8b0"/><ellipse cx="125.5" cy="265.6" rx="1.9" ry="1.7" fill="#f0e020"/><ellipse cx="125.5" cy="265.6" rx="1.2" ry="1.1" fill="#e01818"/><ellipse cx="62.04" cy="336.91" rx="3.04" ry="0.7" fill="#7a7a7a"/><ellipse cx="74.96" cy="336.91" rx="3.04" ry="0.7" fill="#7a7a7a"/><use href="#mouse" x="59.30" y="300.50" width="18.40" height="39.00"/><ellipse cx="68.5" cy="306.0" rx="4.6" ry="4.4" fill="#3a2cf0"/><ellipse cx="68.5" cy="306.0" rx="3.5" ry="3.3" fill="#30d8a0"/><ellipse cx="68.5" cy="306.0" rx="2.8" ry="2.6" fill="#f0e020"/><ellipse cx="68.5" cy="306.0" rx="2.1" ry="1.9" fill="#e01818"/><ellipse cx="81.04" cy="336.91" rx="3.04" ry="0.7" fill="#7a7a7a"/><ellipse cx="93.96" cy="336.91" rx="3.04" ry="0.7" fill="#7a7a7a"/><use href="#mouse" x="78.30" y="300.50" width="18.40" height="39.00"/><ellipse cx="87.5" cy="323.8" rx="5.7" ry="14.3" fill="url(#spd)"/><ellipse cx="87.5" cy="323.0" rx="3.8" ry="14.3" fill="#3a2cf0"/><ellipse cx="87.5" cy="306.0" rx="4.6" ry="4.4" fill="#3a2cf0"/><ellipse cx="87.5" cy="306.0" rx="3.5" ry="3.3" fill="#30d8a0"/><ellipse cx="87.5" cy="306.0" rx="2.8" ry="2.6" fill="#f0e020"/><ellipse cx="87.5" cy="306.0" rx="2.1" ry="1.9" fill="#e01818"/><ellipse cx="100.04" cy="336.91" rx="3.04" ry="0.7" fill="#7a7a7a"/><ellipse cx="112.96" cy="336.91" rx="3.04" ry="0.7" fill="#7a7a7a"/><use href="#mouse" x="97.30" y="300.50" width="18.40" height="39.00"/><use href="#msil" x="97.30" y="312.20" width="18.40" height="27.30" fill="url(#spl)"/><ellipse cx="106.5" cy="306.4" rx="5.6" ry="5.2" fill="#3a2cf0"/><ellipse cx="106.5" cy="306.4" rx="4.5" ry="4.2" fill="#30d8a0"/><ellipse cx="106.5" cy="306.4" rx="3.9" ry="3.6" fill="#f0e020"/><ellipse cx="106.5" cy="306.4" rx="3.2" ry="3.0" fill="#e01818"/><ellipse cx="119.04" cy="336.91" rx="3.04" ry="0.7" fill="#7a7a7a"/><ellipse cx="131.96" cy="336.91" rx="3.04" ry="0.7" fill="#7a7a7a"/><use href="#mouse" x="116.30" y="300.50" width="18.40" height="39.00"/><use href="#msil" x="116.30" y="312.20" width="18.40" height="27.30" fill="url(#spl)"/><ellipse cx="125.5" cy="306.0" rx="4.6" ry="4.4" fill="#3a2cf0"/><ellipse cx="125.5" cy="306.0" rx="3.5" ry="3.3" fill="#30d8a0"/><ellipse cx="125.5" cy="306.0" rx="2.8" ry="2.6" fill="#f0e020"/><ellipse cx="125.5" cy="306.0" rx="2.1" ry="1.9" fill="#e01818"/><ellipse cx="62.04" cy="376.71" rx="3.04" ry="0.7" fill="#7a7a7a"/><ellipse cx="74.96" cy="376.71" rx="3.04" ry="0.7" fill="#7a7a7a"/><use href="#mouse" x="59.30" y="340.30" width="18.40" height="39.00"/><ellipse cx="68.5" cy="344.9" rx="1.9" ry="1.7" fill="#3a2cf0"/><ellipse cx="81.04" cy="376.71" rx="3.04" ry="0.7" fill="#7a7a7a"/><ellipse cx="93.96" cy="376.71" rx="3.04" ry="0.7" fill="#7a7a7a"/><use href="#mouse" x="78.30" y="340.30" width="18.40" height="39.00"/><use href="#msil" x="78.30" y="352.00" width="18.40" height="27.30" fill="url(#spl)"/><ellipse cx="87.5" cy="345.8" rx="4.6" ry="4.4" fill="#3a2cf0"/><ellipse cx="87.5" cy="345.8" rx="3.5" ry="3.3" fill="#30d8a0"/><ellipse cx="87.5" cy="345.8" rx="2.8" ry="2.6" fill="#f0e020"/><ellipse cx="87.5" cy="345.8" rx="2.1" ry="1.9" fill="#e01818"/><ellipse cx="100.04" cy="376.71" rx="3.04" ry="0.7" fill="#7a7a7a"/><ellipse cx="112.96" cy="376.71" rx="3.04" ry="0.7" fill="#7a7a7a"/><use href="#mouse" x="97.30" y="340.30" width="18.40" height="39.00"/><ellipse cx="106.5" cy="363.6" rx="6.5" ry="14.3" fill="url(#spd)"/><ellipse cx="106.5" cy="362.8" rx="3.8" ry="11.9" fill="#3a2cf0" opacity="0.8"/><ellipse cx="106.5" cy="345.8" rx="4.6" ry="4.4" fill="#3a2cf0"/><ellipse cx="106.5" cy="345.8" rx="3.5" ry="3.3" fill="#30d8a0"/><ellipse cx="106.5" cy="345.8" rx="2.8" ry="2.6" fill="#f0e020"/><ellipse cx="106.5" cy="345.8" rx="2.1" ry="1.9" fill="#e01818"/><ellipse cx="119.04" cy="376.71" rx="3.04" ry="0.7" fill="#7a7a7a"/><ellipse cx="131.96" cy="376.71" rx="3.04" ry="0.7" fill="#7a7a7a"/><use href="#mouse" x="116.30" y="340.30" width="18.40" height="39.00"/><ellipse cx="125.5" cy="363.6" rx="6.5" ry="14.3" fill="url(#spd)"/><ellipse cx="125.5" cy="362.8" rx="3.8" ry="11.9" fill="#3a2cf0" opacity="0.8"/><ellipse cx="125.5" cy="345.8" rx="4.6" ry="4.4" fill="#3a2cf0"/><ellipse cx="125.5" cy="345.8" rx="3.5" ry="3.3" fill="#30d8a0"/><ellipse cx="125.5" cy="345.8" rx="2.8" ry="2.6" fill="#f0e020"/><ellipse cx="125.5" cy="345.8" rx="2.1" ry="1.9" fill="#e01818"/><rect x="59.00" y="379.50" width="19.30" height="40.20" fill="url(#spk)"/><ellipse cx="62.04" cy="416.61" rx="3.04" ry="0.7" fill="#7a7a7a"/><ellipse cx="74.96" cy="416.61" rx="3.04" ry="0.7" fill="#7a7a7a"/><use href="#mouse" x="59.30" y="380.10" width="18.40" height="39.10"/><use href="#msil" x="59.30" y="387.92" width="18.40" height="31.28" fill="url(#spd)"/><ellipse cx="68.5" cy="385.6" rx="4.6" ry="4.4" fill="#3a2cf0"/><ellipse cx="68.5" cy="385.6" rx="3.5" ry="3.3" fill="#30d8a0"/><ellipse cx="68.5" cy="385.6" rx="2.8" ry="2.6" fill="#f0e020"/><ellipse cx="68.5" cy="385.6" rx="2.1" ry="1.9" fill="#e01818"/><rect x="78.00" y="379.50" width="19.30" height="40.20" fill="url(#spk)"/><use href="#rsil" x="77.40" y="379.30" width="20.20" height="40.70" fill="#2a70e8"/><use href="#rsil" x="78.00" y="379.80" width="19.00" height="39.90" fill="#60d890"/><use href="#rsil" x="78.50" y="380.30" width="18.00" height="38.90" fill="#d41a16"/><rect x="97.00" y="379.50" width="19.30" height="40.20" fill="url(#spk)"/><ellipse cx="100.04" cy="416.61" rx="3.04" ry="0.7" fill="#7a7a7a"/><ellipse cx="112.96" cy="416.61" rx="3.04" ry="0.7" fill="#7a7a7a"/><use href="#mouse" x="97.30" y="380.10" width="18.40" height="39.10"/><use href="#rsil" x="96.70" y="379.80" width="19.60" height="39.90" fill="#3040e8"/><use href="#rsil" x="97.60" y="380.70" width="17.80" height="37.90" fill="#58d878"/><use href="#rsil" x="100.04" y="381.50" width="12.92" height="35.11" fill="#d41a16"/><ellipse cx="110.3" cy="396.3" rx="2.3" ry="3.2" fill="#e8e030"/><ellipse cx="103.1" cy="404.2" rx="1.9" ry="3.6" fill="#70e050"/><rect x="116.00" y="379.50" width="19.30" height="40.20" fill="url(#spk)"/><use href="#rsil" x="115.40" y="379.30" width="20.20" height="40.70" fill="#2a70e8"/><use href="#rsil" x="116.00" y="379.80" width="19.00" height="39.90" fill="#60d890"/><use href="#rsil" x="116.50" y="380.30" width="18.00" height="38.90" fill="#d41a16"/><rect x="59.00" y="419.40" width="19.30" height="40.10" fill="url(#spk)"/><use href="#rsil" x="58.40" y="419.20" width="20.20" height="40.60" fill="#2a70e8"/><use href="#rsil" x="59.00" y="419.70" width="19.00" height="39.80" fill="#60d890"/><use href="#rsil" x="59.50" y="420.20" width="18.00" height="38.80" fill="#d41a16"/><rect x="78.00" y="419.40" width="19.30" height="40.10" fill="url(#spk)"/><use href="#rsil" x="77.40" y="419.20" width="20.20" height="40.60" fill="#2a70e8"/><use href="#rsil" x="78.00" y="419.70" width="19.00" height="39.80" fill="#60d890"/><use href="#rsil" x="78.50" y="420.20" width="18.00" height="38.80" fill="#d41a16"/><rect x="97.00" y="419.40" width="19.30" height="40.10" fill="url(#spk)"/><use href="#rsil" x="96.40" y="419.20" width="20.20" height="40.60" fill="#2a70e8"/><use href="#rsil" x="97.00" y="419.70" width="19.00" height="39.80" fill="#60d890"/><use href="#rsil" x="97.50" y="420.20" width="18.00" height="38.80" fill="#d41a16"/><rect x="116.00" y="419.40" width="19.30" height="40.10" fill="url(#spk)"/><use href="#rsil" x="115.40" y="419.20" width="20.20" height="40.60" fill="#2a70e8"/><use href="#rsil" x="116.00" y="419.70" width="19.00" height="39.80" fill="#60d890"/><use href="#rsil" x="116.50" y="420.20" width="18.00" height="38.80" fill="#d41a16"/><rect x="59.00" y="459.20" width="19.30" height="40.00" fill="url(#spk)"/><use href="#rsil" x="58.40" y="459.00" width="20.20" height="40.50" fill="#2a70e8"/><use href="#rsil" x="59.00" y="459.50" width="19.00" height="39.70" fill="#60d890"/><use href="#rsil" x="59.50" y="460.00" width="18.00" height="38.70" fill="#d41a16"/><rect x="78.00" y="459.20" width="19.30" height="40.00" fill="url(#spk)"/><use href="#rsil" x="77.40" y="459.00" width="20.20" height="40.50" fill="#2a70e8"/><use href="#rsil" x="78.00" y="459.50" width="19.00" height="39.70" fill="#60d890"/><use href="#rsil" x="78.50" y="460.00" width="18.00" height="38.70" fill="#d41a16"/><rect x="59.00" y="498.90" width="19.30" height="40.10" fill="url(#spk)"/><use href="#rsil" x="58.40" y="498.70" width="20.20" height="40.60" fill="#2a70e8"/><use href="#rsil" x="59.00" y="499.20" width="19.00" height="39.80" fill="#60d890"/><use href="#rsil" x="59.50" y="499.70" width="18.00" height="38.80" fill="#d41a16"/><text x="191.4" y="203" font-size="11.3" font-weight="bold" text-anchor="middle" fill="#111">Medium</text><text x="191.4" y="216.4" font-size="11.3" font-weight="bold" text-anchor="middle" fill="#111">i.c.v.</text><path d="M146.20 220.20 L235.20 220.20 L235.20 260.00 L235.20 260.00 L235.20 299.90 L235.20 299.90 L235.20 339.70 L235.20 339.70 L235.20 379.50 L235.20 379.50 L235.20 419.40 L235.20 419.40 L235.20 459.20 L217.40 459.20 L217.40 498.90 L217.40 498.90 L217.40 538.70 L181.80 538.70 L181.80 579.50 L146.20 579.50 Z" fill="url(#bgp)"/><ellipse cx="149.05" cy="257.21" rx="2.85" ry="0.7" fill="#7a7a7a"/><ellipse cx="161.15" cy="257.21" rx="2.85" ry="0.7" fill="#7a7a7a"/><use href="#mouse" x="146.50" y="220.80" width="17.20" height="39.00"/><ellipse cx="166.85" cy="257.21" rx="2.85" ry="0.7" fill="#7a7a7a"/><ellipse cx="178.95" cy="257.21" rx="2.85" ry="0.7" fill="#7a7a7a"/><use href="#mouse" x="164.30" y="220.80" width="17.20" height="39.00"/><ellipse cx="184.65" cy="257.21" rx="2.85" ry="0.7" fill="#7a7a7a"/><ellipse cx="196.75" cy="257.21" rx="2.85" ry="0.7" fill="#7a7a7a"/><use href="#mouse" x="182.10" y="220.80" width="17.20" height="39.00"/><ellipse cx="190.7" cy="225.8" rx="3.8" ry="3.4" fill="#3a2cf0"/><ellipse cx="190.7" cy="225.8" rx="2.6" ry="2.3" fill="#30d8b0"/><ellipse cx="190.7" cy="225.8" rx="1.9" ry="1.7" fill="#f0e020"/><ellipse cx="190.7" cy="225.8" rx="1.2" ry="1.1" fill="#e01818"/><ellipse cx="202.45" cy="257.21" rx="2.85" ry="0.7" fill="#7a7a7a"/><ellipse cx="214.55" cy="257.21" rx="2.85" ry="0.7" fill="#7a7a7a"/><use href="#mouse" x="199.90" y="220.80" width="17.20" height="39.00"/><ellipse cx="208.5" cy="225.4" rx="1.9" ry="1.7" fill="#3a2cf0"/><ellipse cx="220.25" cy="257.21" rx="2.85" ry="0.7" fill="#7a7a7a"/><ellipse cx="232.35" cy="257.21" rx="2.85" ry="0.7" fill="#7a7a7a"/><use href="#mouse" x="217.70" y="220.80" width="17.20" height="39.00"/><ellipse cx="226.3" cy="225.4" rx="1.9" ry="1.7" fill="#3a2cf0"/><ellipse cx="149.05" cy="297.11" rx="2.85" ry="0.7" fill="#7a7a7a"/><ellipse cx="161.15" cy="297.11" rx="2.85" ry="0.7" fill="#7a7a7a"/><use href="#mouse" x="146.50" y="260.60" width="17.20" height="39.10"/><ellipse cx="155.1" cy="265.2" rx="1.9" ry="1.7" fill="#3a2cf0"/><ellipse cx="166.85" cy="297.11" rx="2.85" ry="0.7" fill="#7a7a7a"/><ellipse cx="178.95" cy="297.11" rx="2.85" ry="0.7" fill="#7a7a7a"/><use href="#mouse" x="164.30" y="260.60" width="17.20" height="39.10"/><ellipse cx="172.9" cy="265.2" rx="1.9" ry="1.7" fill="#3a2cf0"/><ellipse cx="184.65" cy="297.11" rx="2.85" ry="0.7" fill="#7a7a7a"/><ellipse cx="196.75" cy="297.11" rx="2.85" ry="0.7" fill="#7a7a7a"/><use href="#mouse" x="182.10" y="260.60" width="17.20" height="39.10"/><ellipse cx="190.7" cy="265.6" rx="3.8" ry="3.4" fill="#3a2cf0"/><ellipse cx="190.7" cy="265.6" rx="2.6" ry="2.3" fill="#30d8b0"/><ellipse cx="190.7" cy="265.6" rx="1.9" ry="1.7" fill="#f0e020"/><ellipse cx="190.7" cy="265.6" rx="1.2" ry="1.1" fill="#e01818"/><ellipse cx="202.45" cy="297.11" rx="2.85" ry="0.7" fill="#7a7a7a"/><ellipse cx="214.55" cy="297.11" rx="2.85" ry="0.7" fill="#7a7a7a"/><use href="#mouse" x="199.90" y="260.60" width="17.20" height="39.10"/><ellipse cx="208.5" cy="266.1" rx="4.6" ry="4.4" fill="#3a2cf0"/><ellipse cx="208.5" cy="266.1" rx="3.5" ry="3.3" fill="#30d8a0"/><ellipse cx="208.5" cy="266.1" rx="2.8" ry="2.6" fill="#f0e020"/><ellipse cx="208.5" cy="266.1" rx="2.1" ry="1.9" fill="#e01818"/><ellipse cx="220.25" cy="297.11" rx="2.85" ry="0.7" fill="#7a7a7a"/><ellipse cx="232.35" cy="297.11" rx="2.85" ry="0.7" fill="#7a7a7a"/><use href="#mouse" x="217.70" y="260.60" width="17.20" height="39.10"/><ellipse cx="226.3" cy="293.5" rx="2.5" ry="2.8" fill="#3a2cf0"/><ellipse cx="226.3" cy="265.6" rx="3.8" ry="3.4" fill="#3a2cf0"/><ellipse cx="226.3" cy="265.6" rx="2.6" ry="2.3" fill="#30d8b0"/><ellipse cx="226.3" cy="265.6" rx="1.9" ry="1.7" fill="#f0e020"/><ellipse cx="226.3" cy="265.6" rx="1.2" ry="1.1" fill="#e01818"/><ellipse cx="149.05" cy="336.91" rx="2.85" ry="0.7" fill="#7a7a7a"/><ellipse cx="161.15" cy="336.91" rx="2.85" ry="0.7" fill="#7a7a7a"/><use href="#mouse" x="146.50" y="300.50" width="17.20" height="39.00"/><ellipse cx="155.1" cy="305.1" rx="1.9" ry="1.7" fill="#3a2cf0"/><ellipse cx="166.85" cy="336.91" rx="2.85" ry="0.7" fill="#7a7a7a"/><ellipse cx="178.95" cy="336.91" rx="2.85" ry="0.7" fill="#7a7a7a"/><use href="#mouse" x="164.30" y="300.50" width="17.20" height="39.00"/><ellipse cx="172.9" cy="305.1" rx="1.9" ry="1.7" fill="#3a2cf0"/><ellipse cx="184.65" cy="336.91" rx="2.85" ry="0.7" fill="#7a7a7a"/><ellipse cx="196.75" cy="336.91" rx="2.85" ry="0.7" fill="#7a7a7a"/><use href="#mouse" x="182.10" y="300.50" width="17.20" height="39.00"/><ellipse cx="190.7" cy="306.0" rx="4.6" ry="4.4" fill="#3a2cf0"/><ellipse cx="190.7" cy="306.0" rx="3.5" ry="3.3" fill="#30d8a0"/><ellipse cx="190.7" cy="306.0" rx="2.8" ry="2.6" fill="#f0e020"/><ellipse cx="190.7" cy="306.0" rx="2.1" ry="1.9" fill="#e01818"/><ellipse cx="202.45" cy="336.91" rx="2.85" ry="0.7" fill="#7a7a7a"/><ellipse cx="214.55" cy="336.91" rx="2.85" ry="0.7" fill="#7a7a7a"/><use href="#mouse" x="199.90" y="300.50" width="17.20" height="39.00"/><ellipse cx="208.5" cy="306.0" rx="4.6" ry="4.4" fill="#3a2cf0"/><ellipse cx="208.5" cy="306.0" rx="3.5" ry="3.3" fill="#30d8a0"/><ellipse cx="208.5" cy="306.0" rx="2.8" ry="2.6" fill="#f0e020"/><ellipse cx="208.5" cy="306.0" rx="2.1" ry="1.9" fill="#e01818"/><ellipse cx="220.25" cy="336.91" rx="2.85" ry="0.7" fill="#7a7a7a"/><ellipse cx="232.35" cy="336.91" rx="2.85" ry="0.7" fill="#7a7a7a"/><use href="#mouse" x="217.70" y="300.50" width="17.20" height="39.00"/><ellipse cx="226.3" cy="333.3" rx="2.5" ry="2.8" fill="#3a2cf0"/><ellipse cx="226.3" cy="306.4" rx="5.6" ry="5.2" fill="#3a2cf0"/><ellipse cx="226.3" cy="306.4" rx="4.5" ry="4.2" fill="#30d8a0"/><ellipse cx="226.3" cy="306.4" rx="3.9" ry="3.6" fill="#f0e020"/><ellipse cx="226.3" cy="306.4" rx="3.2" ry="3.0" fill="#e01818"/><ellipse cx="149.05" cy="376.71" rx="2.85" ry="0.7" fill="#7a7a7a"/><ellipse cx="161.15" cy="376.71" rx="2.85" ry="0.7" fill="#7a7a7a"/><use href="#mouse" x="146.50" y="340.30" width="17.20" height="39.00"/><ellipse cx="166.85" cy="376.71" rx="2.85" ry="0.7" fill="#7a7a7a"/><ellipse cx="178.95" cy="376.71" rx="2.85" ry="0.7" fill="#7a7a7a"/><use href="#mouse" x="164.30" y="340.30" width="17.20" height="39.00"/><ellipse cx="172.9" cy="344.9" rx="1.9" ry="1.7" fill="#3a2cf0"/><ellipse cx="184.65" cy="376.71" rx="2.85" ry="0.7" fill="#7a7a7a"/><ellipse cx="196.75" cy="376.71" rx="2.85" ry="0.7" fill="#7a7a7a"/><use href="#mouse" x="182.10" y="340.30" width="17.20" height="39.00"/><ellipse cx="190.7" cy="345.8" rx="4.6" ry="4.4" fill="#3a2cf0"/><ellipse cx="190.7" cy="345.8" rx="3.5" ry="3.3" fill="#30d8a0"/><ellipse cx="190.7" cy="345.8" rx="2.8" ry="2.6" fill="#f0e020"/><ellipse cx="190.7" cy="345.8" rx="2.1" ry="1.9" fill="#e01818"/><ellipse cx="202.45" cy="376.71" rx="2.85" ry="0.7" fill="#7a7a7a"/><ellipse cx="214.55" cy="376.71" rx="2.85" ry="0.7" fill="#7a7a7a"/><use href="#mouse" x="199.90" y="340.30" width="17.20" height="39.00"/><use href="#msil" x="199.90" y="352.00" width="17.20" height="27.30" fill="url(#spl)"/><ellipse cx="208.5" cy="346.2" rx="5.6" ry="5.2" fill="#3a2cf0"/><ellipse cx="208.5" cy="346.2" rx="4.5" ry="4.2" fill="#30d8a0"/><ellipse cx="208.5" cy="346.2" rx="3.9" ry="3.6" fill="#f0e020"/><ellipse cx="208.5" cy="346.2" rx="3.2" ry="3.0" fill="#e01818"/><ellipse cx="220.25" cy="376.71" rx="2.85" ry="0.7" fill="#7a7a7a"/><ellipse cx="232.35" cy="376.71" rx="2.85" ry="0.7" fill="#7a7a7a"/><use href="#mouse" x="217.70" y="340.30" width="17.20" height="39.00"/><ellipse cx="226.3" cy="373.1" rx="2.5" ry="2.8" fill="#3a2cf0"/><ellipse cx="226.3" cy="345.8" rx="4.6" ry="4.4" fill="#3a2cf0"/><ellipse cx="226.3" cy="345.8" rx="3.5" ry="3.3" fill="#30d8a0"/><ellipse cx="226.3" cy="345.8" rx="2.8" ry="2.6" fill="#f0e020"/><ellipse cx="226.3" cy="345.8" rx="2.1" ry="1.9" fill="#e01818"/><ellipse cx="149.05" cy="416.61" rx="2.85" ry="0.7" fill="#7a7a7a"/><ellipse cx="161.15" cy="416.61" rx="2.85" ry="0.7" fill="#7a7a7a"/><use href="#mouse" x="146.50" y="380.10" width="17.20" height="39.10"/><ellipse cx="155.1" cy="385.1" rx="3.8" ry="3.4" fill="#3a2cf0"/><ellipse cx="155.1" cy="385.1" rx="2.6" ry="2.3" fill="#30d8b0"/><ellipse cx="155.1" cy="385.1" rx="1.9" ry="1.7" fill="#f0e020"/><ellipse cx="155.1" cy="385.1" rx="1.2" ry="1.1" fill="#e01818"/><ellipse cx="166.85" cy="416.61" rx="2.85" ry="0.7" fill="#7a7a7a"/><ellipse cx="178.95" cy="416.61" rx="2.85" ry="0.7" fill="#7a7a7a"/><use href="#mouse" x="164.30" y="380.10" width="17.20" height="39.10"/><ellipse cx="172.9" cy="384.7" rx="1.9" ry="1.7" fill="#3a2cf0"/><ellipse cx="184.65" cy="416.61" rx="2.85" ry="0.7" fill="#7a7a7a"/><ellipse cx="196.75" cy="416.61" rx="2.85" ry="0.7" fill="#7a7a7a"/><use href="#mouse" x="182.10" y="380.10" width="17.20" height="39.10"/><use href="#msil" x="182.10" y="391.83" width="17.20" height="27.37" fill="url(#spl)"/><ellipse cx="190.7" cy="385.6" rx="4.6" ry="4.4" fill="#3a2cf0"/><ellipse cx="190.7" cy="385.6" rx="3.5" ry="3.3" fill="#30d8a0"/><ellipse cx="190.7" cy="385.6" rx="2.8" ry="2.6" fill="#f0e020"/><ellipse cx="190.7" cy="385.6" rx="2.1" ry="1.9" fill="#e01818"/><ellipse cx="202.45" cy="416.61" rx="2.85" ry="0.7" fill="#7a7a7a"/><ellipse cx="214.55" cy="416.61" rx="2.85" ry="0.7" fill="#7a7a7a"/><use href="#mouse" x="199.90" y="380.10" width="17.20" height="39.10"/><use href="#msil" x="199.60" y="391.83" width="17.80" height="28.15" fill="url(#spd)"/><use href="#msil" x="200.40" y="391.83" width="16.20" height="26.59" fill="#3a2cf0"/><ellipse cx="208.5" cy="401.4" rx="2.7" ry="4.0" fill="#5070f8"/><ellipse cx="208.5" cy="386.0" rx="5.6" ry="5.2" fill="#3a2cf0"/><ellipse cx="208.5" cy="386.0" rx="4.5" ry="4.2" fill="#30d8a0"/><ellipse cx="208.5" cy="386.0" rx="3.9" ry="3.6" fill="#f0e020"/><ellipse cx="208.5" cy="386.0" rx="3.2" ry="3.0" fill="#e01818"/><rect x="217.40" y="379.50" width="18.10" height="40.20" fill="url(#spk)"/><ellipse cx="220.25" cy="416.61" rx="2.85" ry="0.7" fill="#7a7a7a"/><ellipse cx="232.35" cy="416.61" rx="2.85" ry="0.7" fill="#7a7a7a"/><use href="#mouse" x="217.70" y="380.10" width="17.20" height="39.10"/><use href="#rsil" x="217.10" y="379.80" width="18.40" height="39.90" fill="#3040e8"/><use href="#rsil" x="218.00" y="380.70" width="16.60" height="37.90" fill="#58d878"/><use href="#rsil" x="220.25" y="381.50" width="12.10" height="35.11" fill="#d41a16"/><ellipse cx="229.9" cy="396.3" rx="2.1" ry="3.2" fill="#e8e030"/><ellipse cx="223.1" cy="404.2" rx="1.8" ry="3.6" fill="#70e050"/><ellipse cx="149.05" cy="456.41" rx="2.85" ry="0.7" fill="#7a7a7a"/><ellipse cx="161.15" cy="456.41" rx="2.85" ry="0.7" fill="#7a7a7a"/><use href="#mouse" x="146.50" y="420.00" width="17.20" height="39.00"/><ellipse cx="155.1" cy="425.5" rx="4.6" ry="4.4" fill="#3a2cf0"/><ellipse cx="155.1" cy="425.5" rx="3.5" ry="3.3" fill="#30d8a0"/><ellipse cx="155.1" cy="425.5" rx="2.8" ry="2.6" fill="#f0e020"/><ellipse cx="155.1" cy="425.5" rx="2.1" ry="1.9" fill="#e01818"/><ellipse cx="166.85" cy="456.41" rx="2.85" ry="0.7" fill="#7a7a7a"/><ellipse cx="178.95" cy="456.41" rx="2.85" ry="0.7" fill="#7a7a7a"/><use href="#mouse" x="164.30" y="420.00" width="17.20" height="39.00"/><ellipse cx="172.9" cy="425.5" rx="4.6" ry="4.4" fill="#3a2cf0"/><ellipse cx="172.9" cy="425.5" rx="3.5" ry="3.3" fill="#30d8a0"/><ellipse cx="172.9" cy="425.5" rx="2.8" ry="2.6" fill="#f0e020"/><ellipse cx="172.9" cy="425.5" rx="2.1" ry="1.9" fill="#e01818"/><ellipse cx="184.65" cy="456.41" rx="2.85" ry="0.7" fill="#7a7a7a"/><ellipse cx="196.75" cy="456.41" rx="2.85" ry="0.7" fill="#7a7a7a"/><use href="#mouse" x="182.10" y="420.00" width="17.20" height="39.00"/><use href="#msil" x="181.80" y="431.70" width="17.80" height="28.08" fill="url(#spd)"/><use href="#msil" x="182.60" y="431.70" width="16.20" height="26.52" fill="#3a2cf0"/><ellipse cx="190.7" cy="441.3" rx="2.7" ry="4.0" fill="#5070f8"/><ellipse cx="190.7" cy="425.5" rx="4.6" ry="4.4" fill="#3a2cf0"/><ellipse cx="190.7" cy="425.5" rx="3.5" ry="3.3" fill="#30d8a0"/><ellipse cx="190.7" cy="425.5" rx="2.8" ry="2.6" fill="#f0e020"/><ellipse cx="190.7" cy="425.5" rx="2.1" ry="1.9" fill="#e01818"/><rect x="199.60" y="419.40" width="18.10" height="40.10" fill="url(#spk)"/><use href="#rsil" x="199.00" y="419.20" width="19.00" height="40.60" fill="#2a70e8"/><use href="#rsil" x="199.60" y="419.70" width="17.80" height="39.80" fill="#60d890"/><use href="#rsil" x="200.10" y="420.20" width="16.80" height="38.80" fill="#d41a16"/><rect x="217.40" y="419.40" width="18.10" height="40.10" fill="url(#spk)"/><use href="#rsil" x="216.80" y="419.20" width="19.00" height="40.60" fill="#2a70e8"/><use href="#rsil" x="217.40" y="419.70" width="17.80" height="39.80" fill="#60d890"/><use href="#rsil" x="217.90" y="420.20" width="16.80" height="38.80" fill="#d41a16"/><rect x="146.20" y="459.20" width="18.10" height="40.00" fill="url(#spk)"/><ellipse cx="149.05" cy="496.12" rx="2.85" ry="0.7" fill="#7a7a7a"/><ellipse cx="161.15" cy="496.12" rx="2.85" ry="0.7" fill="#7a7a7a"/><use href="#mouse" x="146.50" y="459.80" width="17.20" height="38.90"/><use href="#msil" x="146.50" y="467.58" width="17.20" height="31.12" fill="url(#spd)"/><ellipse cx="155.1" cy="465.3" rx="4.6" ry="4.4" fill="#3a2cf0"/><ellipse cx="155.1" cy="465.3" rx="3.5" ry="3.3" fill="#30d8a0"/><ellipse cx="155.1" cy="465.3" rx="2.8" ry="2.6" fill="#f0e020"/><ellipse cx="155.1" cy="465.3" rx="2.1" ry="1.9" fill="#e01818"/><rect x="164.00" y="459.20" width="18.10" height="40.00" fill="url(#spk)"/><ellipse cx="166.85" cy="496.12" rx="2.85" ry="0.7" fill="#7a7a7a"/><ellipse cx="178.95" cy="496.12" rx="2.85" ry="0.7" fill="#7a7a7a"/><use href="#mouse" x="164.30" y="459.80" width="17.20" height="38.90"/><use href="#msil" x="164.30" y="467.58" width="17.20" height="31.12" fill="url(#spd)"/><ellipse cx="172.9" cy="465.3" rx="4.6" ry="4.4" fill="#3a2cf0"/><ellipse cx="172.9" cy="465.3" rx="3.5" ry="3.3" fill="#30d8a0"/><ellipse cx="172.9" cy="465.3" rx="2.8" ry="2.6" fill="#f0e020"/><ellipse cx="172.9" cy="465.3" rx="2.1" ry="1.9" fill="#e01818"/><rect x="181.80" y="459.20" width="18.10" height="40.00" fill="url(#spk)"/><ellipse cx="184.65" cy="496.12" rx="2.85" ry="0.7" fill="#7a7a7a"/><ellipse cx="196.75" cy="496.12" rx="2.85" ry="0.7" fill="#7a7a7a"/><use href="#mouse" x="182.10" y="459.80" width="17.20" height="38.90"/><use href="#rsil" x="181.50" y="459.50" width="18.40" height="39.70" fill="#3040e8"/><use href="#rsil" x="182.40" y="460.40" width="16.60" height="37.70" fill="#58d878"/><use href="#rsil" x="184.65" y="461.19" width="12.10" height="34.94" fill="#d41a16"/><ellipse cx="194.3" cy="475.9" rx="2.1" ry="3.2" fill="#e8e030"/><ellipse cx="187.5" cy="483.8" rx="1.8" ry="3.6" fill="#70e050"/><rect x="199.60" y="459.20" width="18.10" height="40.00" fill="url(#spk)"/><use href="#rsil" x="199.00" y="459.00" width="19.00" height="40.50" fill="#2a70e8"/><use href="#rsil" x="199.60" y="459.50" width="17.80" height="39.70" fill="#60d890"/><use href="#rsil" x="200.10" y="460.00" width="16.80" height="38.70" fill="#d41a16"/><rect x="146.20" y="498.90" width="18.10" height="40.10" fill="url(#spk)"/><ellipse cx="149.05" cy="535.91" rx="2.85" ry="0.7" fill="#7a7a7a"/><ellipse cx="161.15" cy="535.91" rx="2.85" ry="0.7" fill="#7a7a7a"/><use href="#mouse" x="146.50" y="499.50" width="17.20" height="39.00"/><use href="#rsil" x="145.90" y="499.20" width="18.40" height="39.80" fill="#3040e8"/><use href="#rsil" x="146.80" y="500.10" width="16.60" height="37.80" fill="#58d878"/><use href="#rsil" x="149.05" y="500.89" width="12.10" height="35.02" fill="#d41a16"/><ellipse cx="158.7" cy="515.6" rx="2.1" ry="3.2" fill="#e8e030"/><ellipse cx="151.9" cy="523.6" rx="1.8" ry="3.6" fill="#70e050"/><rect x="164.00" y="498.90" width="18.10" height="40.10" fill="url(#spk)"/><use href="#rsil" x="163.40" y="498.70" width="19.00" height="40.60" fill="#2a70e8"/><use href="#rsil" x="164.00" y="499.20" width="17.80" height="39.80" fill="#60d890"/><use href="#rsil" x="164.50" y="499.70" width="16.80" height="38.80" fill="#d41a16"/><rect x="181.80" y="498.90" width="18.10" height="40.10" fill="url(#spk)"/><use href="#rsil" x="181.20" y="498.70" width="19.00" height="40.60" fill="#2a70e8"/><use href="#rsil" x="181.80" y="499.20" width="17.80" height="39.80" fill="#60d890"/><use href="#rsil" x="182.30" y="499.70" width="16.80" height="38.80" fill="#d41a16"/><rect x="199.60" y="498.90" width="18.10" height="40.10" fill="url(#spk)"/><use href="#rsil" x="199.00" y="498.70" width="19.00" height="40.60" fill="#2a70e8"/><use href="#rsil" x="199.60" y="499.20" width="17.80" height="39.80" fill="#60d890"/><use href="#rsil" x="200.10" y="499.70" width="16.80" height="38.80" fill="#d41a16"/><rect x="146.20" y="538.70" width="18.10" height="41.10" fill="url(#spk)"/><use href="#rsil" x="145.60" y="538.50" width="19.00" height="41.60" fill="#2a70e8"/><use href="#rsil" x="146.20" y="539.00" width="17.80" height="40.80" fill="#60d890"/><use href="#rsil" x="146.70" y="539.50" width="16.80" height="39.80" fill="#d41a16"/><rect x="164.00" y="538.70" width="18.10" height="41.10" fill="url(#spk)"/><use href="#rsil" x="163.40" y="538.50" width="19.00" height="41.60" fill="#2a70e8"/><use href="#rsil" x="164.00" y="539.00" width="17.80" height="40.80" fill="#60d890"/><use href="#rsil" x="164.50" y="539.50" width="16.80" height="39.80" fill="#d41a16"/><text x="298.0" y="203" font-size="11.3" font-weight="bold" text-anchor="middle" fill="#111">Mock T</text><text x="298.0" y="216.4" font-size="11.3" font-weight="bold" text-anchor="middle" fill="#111">i.c.v.</text><path d="M245.40 220.20 L349.50 220.20 L349.50 260.00 L349.50 260.00 L349.50 299.90 L332.15 299.90 L332.15 339.70 L332.15 339.70 L332.15 379.50 L332.15 379.50 L332.15 419.40 L332.15 419.40 L332.15 459.20 L314.80 459.20 L314.80 498.90 L314.80 498.90 L314.80 538.70 L297.45 538.70 L297.45 579.50 L245.40 579.50 Z" fill="url(#bgp)"/><ellipse cx="248.18" cy="257.21" rx="2.78" ry="0.7" fill="#7a7a7a"/><ellipse cx="259.97" cy="257.21" rx="2.78" ry="0.7" fill="#7a7a7a"/><use href="#mouse" x="245.70" y="220.80" width="16.75" height="39.00"/><ellipse cx="254.1" cy="225.8" rx="3.8" ry="3.4" fill="#3a2cf0"/><ellipse cx="254.1" cy="225.8" rx="2.6" ry="2.3" fill="#30d8b0"/><ellipse cx="254.1" cy="225.8" rx="1.9" ry="1.7" fill="#f0e020"/><ellipse cx="254.1" cy="225.8" rx="1.2" ry="1.1" fill="#e01818"/><ellipse cx="265.53" cy="257.21" rx="2.78" ry="0.7" fill="#7a7a7a"/><ellipse cx="277.32" cy="257.21" rx="2.78" ry="0.7" fill="#7a7a7a"/><use href="#mouse" x="263.05" y="220.80" width="16.75" height="39.00"/><ellipse cx="271.4" cy="225.8" rx="3.8" ry="3.4" fill="#3a2cf0"/><ellipse cx="271.4" cy="225.8" rx="2.6" ry="2.3" fill="#30d8b0"/><ellipse cx="271.4" cy="225.8" rx="1.9" ry="1.7" fill="#f0e020"/><ellipse cx="271.4" cy="225.8" rx="1.2" ry="1.1" fill="#e01818"/><ellipse cx="282.88" cy="257.21" rx="2.78" ry="0.7" fill="#7a7a7a"/><ellipse cx="294.67" cy="257.21" rx="2.78" ry="0.7" fill="#7a7a7a"/><use href="#mouse" x="280.40" y="220.80" width="16.75" height="39.00"/><ellipse cx="288.8" cy="225.4" rx="1.9" ry="1.7" fill="#3a2cf0"/><ellipse cx="300.23" cy="257.21" rx="2.78" ry="0.7" fill="#7a7a7a"/><ellipse cx="312.02" cy="257.21" rx="2.78" ry="0.7" fill="#7a7a7a"/><use href="#mouse" x="297.75" y="220.80" width="16.75" height="39.00"/><ellipse cx="306.1" cy="225.4" rx="1.9" ry="1.7" fill="#3a2cf0"/><ellipse cx="317.58" cy="257.21" rx="2.78" ry="0.7" fill="#7a7a7a"/><ellipse cx="329.37" cy="257.21" rx="2.78" ry="0.7" fill="#7a7a7a"/><use href="#mouse" x="315.10" y="220.80" width="16.75" height="39.00"/><ellipse cx="323.5" cy="225.4" rx="1.9" ry="1.7" fill="#3a2cf0"/><ellipse cx="334.93" cy="257.21" rx="2.78" ry="0.7" fill="#7a7a7a"/><ellipse cx="346.72" cy="257.21" rx="2.78" ry="0.7" fill="#7a7a7a"/><use href="#mouse" x="332.45" y="220.80" width="16.75" height="39.00"/><ellipse cx="340.8" cy="225.4" rx="1.9" ry="1.7" fill="#3a2cf0"/><ellipse cx="248.18" cy="297.11" rx="2.78" ry="0.7" fill="#7a7a7a"/><ellipse cx="259.97" cy="297.11" rx="2.78" ry="0.7" fill="#7a7a7a"/><use href="#mouse" x="245.70" y="260.60" width="16.75" height="39.10"/><ellipse cx="254.1" cy="265.6" rx="3.8" ry="3.4" fill="#3a2cf0"/><ellipse cx="254.1" cy="265.6" rx="2.6" ry="2.3" fill="#30d8b0"/><ellipse cx="254.1" cy="265.6" rx="1.9" ry="1.7" fill="#f0e020"/><ellipse cx="254.1" cy="265.6" rx="1.2" ry="1.1" fill="#e01818"/><ellipse cx="265.53" cy="297.11" rx="2.78" ry="0.7" fill="#7a7a7a"/><ellipse cx="277.32" cy="297.11" rx="2.78" ry="0.7" fill="#7a7a7a"/><use href="#mouse" x="263.05" y="260.60" width="16.75" height="39.10"/><ellipse cx="271.4" cy="265.6" rx="3.8" ry="3.4" fill="#3a2cf0"/><ellipse cx="271.4" cy="265.6" rx="2.6" ry="2.3" fill="#30d8b0"/><ellipse cx="271.4" cy="265.6" rx="1.9" ry="1.7" fill="#f0e020"/><ellipse cx="271.4" cy="265.6" rx="1.2" ry="1.1" fill="#e01818"/><ellipse cx="282.88" cy="297.11" rx="2.78" ry="0.7" fill="#7a7a7a"/><ellipse cx="294.67" cy="297.11" rx="2.78" ry="0.7" fill="#7a7a7a"/><use href="#mouse" x="280.40" y="260.60" width="16.75" height="39.10"/><ellipse cx="288.8" cy="265.6" rx="3.8" ry="3.4" fill="#3a2cf0"/><ellipse cx="288.8" cy="265.6" rx="2.6" ry="2.3" fill="#30d8b0"/><ellipse cx="288.8" cy="265.6" rx="1.9" ry="1.7" fill="#f0e020"/><ellipse cx="288.8" cy="265.6" rx="1.2" ry="1.1" fill="#e01818"/><ellipse cx="300.23" cy="297.11" rx="2.78" ry="0.7" fill="#7a7a7a"/><ellipse cx="312.02" cy="297.11" rx="2.78" ry="0.7" fill="#7a7a7a"/><use href="#mouse" x="297.75" y="260.60" width="16.75" height="39.10"/><ellipse cx="306.1" cy="265.6" rx="3.8" ry="3.4" fill="#3a2cf0"/><ellipse cx="306.1" cy="265.6" rx="2.6" ry="2.3" fill="#30d8b0"/><ellipse cx="306.1" cy="265.6" rx="1.9" ry="1.7" fill="#f0e020"/><ellipse cx="306.1" cy="265.6" rx="1.2" ry="1.1" fill="#e01818"/><ellipse cx="317.58" cy="297.11" rx="2.78" ry="0.7" fill="#7a7a7a"/><ellipse cx="329.37" cy="297.11" rx="2.78" ry="0.7" fill="#7a7a7a"/><use href="#mouse" x="315.10" y="260.60" width="16.75" height="39.10"/><ellipse cx="323.5" cy="265.6" rx="3.8" ry="3.4" fill="#3a2cf0"/><ellipse cx="323.5" cy="265.6" rx="2.6" ry="2.3" fill="#30d8b0"/><ellipse cx="323.5" cy="265.6" rx="1.9" ry="1.7" fill="#f0e020"/><ellipse cx="323.5" cy="265.6" rx="1.2" ry="1.1" fill="#e01818"/><ellipse cx="334.93" cy="297.11" rx="2.78" ry="0.7" fill="#7a7a7a"/><ellipse cx="346.72" cy="297.11" rx="2.78" ry="0.7" fill="#7a7a7a"/><use href="#mouse" x="332.45" y="260.60" width="16.75" height="39.10"/><ellipse cx="340.8" cy="265.2" rx="1.9" ry="1.7" fill="#3a2cf0"/><ellipse cx="248.18" cy="336.91" rx="2.78" ry="0.7" fill="#7a7a7a"/><ellipse cx="259.97" cy="336.91" rx="2.78" ry="0.7" fill="#7a7a7a"/><use href="#mouse" x="245.70" y="300.50" width="16.75" height="39.00"/><ellipse cx="254.1" cy="305.5" rx="3.8" ry="3.4" fill="#3a2cf0"/><ellipse cx="254.1" cy="305.5" rx="2.6" ry="2.3" fill="#30d8b0"/><ellipse cx="254.1" cy="305.5" rx="1.9" ry="1.7" fill="#f0e020"/><ellipse cx="254.1" cy="305.5" rx="1.2" ry="1.1" fill="#e01818"/><ellipse cx="265.53" cy="336.91" rx="2.78" ry="0.7" fill="#7a7a7a"/><ellipse cx="277.32" cy="336.91" rx="2.78" ry="0.7" fill="#7a7a7a"/><use href="#mouse" x="263.05" y="300.50" width="16.75" height="39.00"/><ellipse cx="271.4" cy="305.5" rx="3.8" ry="3.4" fill="#3a2cf0"/><ellipse cx="271.4" cy="305.5" rx="2.6" ry="2.3" fill="#30d8b0"/><ellipse cx="271.4" cy="305.5" rx="1.9" ry="1.7" fill="#f0e020"/><ellipse cx="271.4" cy="305.5" rx="1.2" ry="1.1" fill="#e01818"/><ellipse cx="282.88" cy="336.91" rx="2.78" ry="0.7" fill="#7a7a7a"/><ellipse cx="294.67" cy="336.91" rx="2.78" ry="0.7" fill="#7a7a7a"/><use href="#mouse" x="280.40" y="300.50" width="16.75" height="39.00"/><ellipse cx="288.8" cy="305.5" rx="3.8" ry="3.4" fill="#3a2cf0"/><ellipse cx="288.8" cy="305.5" rx="2.6" ry="2.3" fill="#30d8b0"/><ellipse cx="288.8" cy="305.5" rx="1.9" ry="1.7" fill="#f0e020"/><ellipse cx="288.8" cy="305.5" rx="1.2" ry="1.1" fill="#e01818"/><ellipse cx="300.23" cy="336.91" rx="2.78" ry="0.7" fill="#7a7a7a"/><ellipse cx="312.02" cy="336.91" rx="2.78" ry="0.7" fill="#7a7a7a"/><use href="#mouse" x="297.75" y="300.50" width="16.75" height="39.00"/><ellipse cx="306.1" cy="305.5" rx="3.8" ry="3.4" fill="#3a2cf0"/><ellipse cx="306.1" cy="305.5" rx="2.6" ry="2.3" fill="#30d8b0"/><ellipse cx="306.1" cy="305.5" rx="1.9" ry="1.7" fill="#f0e020"/><ellipse cx="306.1" cy="305.5" rx="1.2" ry="1.1" fill="#e01818"/><ellipse cx="317.58" cy="336.91" rx="2.78" ry="0.7" fill="#7a7a7a"/><ellipse cx="329.37" cy="336.91" rx="2.78" ry="0.7" fill="#7a7a7a"/><use href="#mouse" x="315.10" y="300.50" width="16.75" height="39.00"/><ellipse cx="323.5" cy="305.5" rx="3.8" ry="3.4" fill="#3a2cf0"/><ellipse cx="323.5" cy="305.5" rx="2.6" ry="2.3" fill="#30d8b0"/><ellipse cx="323.5" cy="305.5" rx="1.9" ry="1.7" fill="#f0e020"/><ellipse cx="323.5" cy="305.5" rx="1.2" ry="1.1" fill="#e01818"/><ellipse cx="248.18" cy="376.71" rx="2.78" ry="0.7" fill="#7a7a7a"/><ellipse cx="259.97" cy="376.71" rx="2.78" ry="0.7" fill="#7a7a7a"/><use href="#mouse" x="245.70" y="340.30" width="16.75" height="39.00"/><ellipse cx="254.1" cy="345.8" rx="4.6" ry="4.4" fill="#3a2cf0"/><ellipse cx="254.1" cy="345.8" rx="3.5" ry="3.3" fill="#30d8a0"/><ellipse cx="254.1" cy="345.8" rx="2.8" ry="2.6" fill="#f0e020"/><ellipse cx="254.1" cy="345.8" rx="2.1" ry="1.9" fill="#e01818"/><ellipse cx="265.53" cy="376.71" rx="2.78" ry="0.7" fill="#7a7a7a"/><ellipse cx="277.32" cy="376.71" rx="2.78" ry="0.7" fill="#7a7a7a"/><use href="#mouse" x="263.05" y="340.30" width="16.75" height="39.00"/><ellipse cx="271.4" cy="345.8" rx="4.6" ry="4.4" fill="#3a2cf0"/><ellipse cx="271.4" cy="345.8" rx="3.5" ry="3.3" fill="#30d8a0"/><ellipse cx="271.4" cy="345.8" rx="2.8" ry="2.6" fill="#f0e020"/><ellipse cx="271.4" cy="345.8" rx="2.1" ry="1.9" fill="#e01818"/><ellipse cx="282.88" cy="376.71" rx="2.78" ry="0.7" fill="#7a7a7a"/><ellipse cx="294.67" cy="376.71" rx="2.78" ry="0.7" fill="#7a7a7a"/><use href="#mouse" x="280.40" y="340.30" width="16.75" height="39.00"/><ellipse cx="288.8" cy="345.8" rx="4.6" ry="4.4" fill="#3a2cf0"/><ellipse cx="288.8" cy="345.8" rx="3.5" ry="3.3" fill="#30d8a0"/><ellipse cx="288.8" cy="345.8" rx="2.8" ry="2.6" fill="#f0e020"/><ellipse cx="288.8" cy="345.8" rx="2.1" ry="1.9" fill="#e01818"/><ellipse cx="300.23" cy="376.71" rx="2.78" ry="0.7" fill="#7a7a7a"/><ellipse cx="312.02" cy="376.71" rx="2.78" ry="0.7" fill="#7a7a7a"/><use href="#mouse" x="297.75" y="340.30" width="16.75" height="39.00"/><ellipse cx="306.1" cy="345.3" rx="3.8" ry="3.4" fill="#3a2cf0"/><ellipse cx="306.1" cy="345.3" rx="2.6" ry="2.3" fill="#30d8b0"/><ellipse cx="306.1" cy="345.3" rx="1.9" ry="1.7" fill="#f0e020"/><ellipse cx="306.1" cy="345.3" rx="1.2" ry="1.1" fill="#e01818"/><ellipse cx="317.58" cy="376.71" rx="2.78" ry="0.7" fill="#7a7a7a"/><ellipse cx="329.37" cy="376.71" rx="2.78" ry="0.7" fill="#7a7a7a"/><use href="#mouse" x="315.10" y="340.30" width="16.75" height="39.00"/><ellipse cx="323.5" cy="345.8" rx="4.6" ry="4.4" fill="#3a2cf0"/><ellipse cx="323.5" cy="345.8" rx="3.5" ry="3.3" fill="#30d8a0"/><ellipse cx="323.5" cy="345.8" rx="2.8" ry="2.6" fill="#f0e020"/><ellipse cx="323.5" cy="345.8" rx="2.1" ry="1.9" fill="#e01818"/><ellipse cx="248.18" cy="416.61" rx="2.78" ry="0.7" fill="#7a7a7a"/><ellipse cx="259.97" cy="416.61" rx="2.78" ry="0.7" fill="#7a7a7a"/><use href="#mouse" x="245.70" y="380.10" width="16.75" height="39.10"/><ellipse cx="254.1" cy="385.1" rx="3.8" ry="3.4" fill="#3a2cf0"/><ellipse cx="254.1" cy="385.1" rx="2.6" ry="2.3" fill="#30d8b0"/><ellipse cx="254.1" cy="385.1" rx="1.9" ry="1.7" fill="#f0e020"/><ellipse cx="254.1" cy="385.1" rx="1.2" ry="1.1" fill="#e01818"/><ellipse cx="265.53" cy="416.61" rx="2.78" ry="0.7" fill="#7a7a7a"/><ellipse cx="277.32" cy="416.61" rx="2.78" ry="0.7" fill="#7a7a7a"/><use href="#mouse" x="263.05" y="380.10" width="16.75" height="39.10"/><ellipse cx="271.4" cy="403.4" rx="2.1" ry="2.0" fill="#3a2cf0"/><ellipse cx="271.4" cy="385.1" rx="3.8" ry="3.4" fill="#3a2cf0"/><ellipse cx="271.4" cy="385.1" rx="2.6" ry="2.3" fill="#30d8b0"/><ellipse cx="271.4" cy="385.1" rx="1.9" ry="1.7" fill="#f0e020"/><ellipse cx="271.4" cy="385.1" rx="1.2" ry="1.1" fill="#e01818"/><ellipse cx="282.88" cy="416.61" rx="2.78" ry="0.7" fill="#7a7a7a"/><ellipse cx="294.67" cy="416.61" rx="2.78" ry="0.7" fill="#7a7a7a"/><use href="#mouse" x="280.40" y="380.10" width="16.75" height="39.10"/><ellipse cx="288.8" cy="403.4" rx="2.1" ry="2.0" fill="#3a2cf0"/><ellipse cx="288.8" cy="385.6" rx="4.6" ry="4.4" fill="#3a2cf0"/><ellipse cx="288.8" cy="385.6" rx="3.5" ry="3.3" fill="#30d8a0"/><ellipse cx="288.8" cy="385.6" rx="2.8" ry="2.6" fill="#f0e020"/><ellipse cx="288.8" cy="385.6" rx="2.1" ry="1.9" fill="#e01818"/><rect x="297.45" y="379.50" width="17.65" height="40.20" fill="url(#spk)"/><ellipse cx="300.23" cy="416.61" rx="2.78" ry="0.7" fill="#7a7a7a"/><ellipse cx="312.02" cy="416.61" rx="2.78" ry="0.7" fill="#7a7a7a"/><use href="#mouse" x="297.75" y="380.10" width="16.75" height="39.10"/><use href="#msil" x="297.75" y="387.92" width="16.75" height="31.28" fill="url(#spd)"/><ellipse cx="306.1" cy="385.6" rx="4.6" ry="4.4" fill="#3a2cf0"/><ellipse cx="306.1" cy="385.6" rx="3.5" ry="3.3" fill="#30d8a0"/><ellipse cx="306.1" cy="385.6" rx="2.8" ry="2.6" fill="#f0e020"/><ellipse cx="306.1" cy="385.6" rx="2.1" ry="1.9" fill="#e01818"/><rect x="314.80" y="379.50" width="17.65" height="40.20" fill="url(#spk)"/><ellipse cx="317.58" cy="416.61" rx="2.78" ry="0.7" fill="#7a7a7a"/><ellipse cx="329.37" cy="416.61" rx="2.78" ry="0.7" fill="#7a7a7a"/><use href="#mouse" x="315.10" y="380.10" width="16.75" height="39.10"/><use href="#rsil" x="314.50" y="379.80" width="17.95" height="39.90" fill="#3040e8"/><use href="#rsil" x="315.40" y="380.70" width="16.15" height="37.90" fill="#58d878"/><use href="#rsil" x="317.58" y="381.50" width="11.80" height="35.11" fill="#d41a16"/><ellipse cx="326.9" cy="396.3" rx="2.1" ry="3.2" fill="#e8e030"/><ellipse cx="320.4" cy="404.2" rx="1.7" ry="3.6" fill="#70e050"/><ellipse cx="248.18" cy="456.41" rx="2.78" ry="0.7" fill="#7a7a7a"/><ellipse cx="259.97" cy="456.41" rx="2.78" ry="0.7" fill="#7a7a7a"/><use href="#mouse" x="245.70" y="420.00" width="16.75" height="39.00"/><ellipse cx="265.53" cy="456.41" rx="2.78" ry="0.7" fill="#7a7a7a"/><ellipse cx="277.32" cy="456.41" rx="2.78" ry="0.7" fill="#7a7a7a"/><use href="#mouse" x="263.05" y="420.00" width="16.75" height="39.00"/><ellipse cx="271.4" cy="425.0" rx="3.8" ry="3.4" fill="#3a2cf0"/><ellipse cx="271.4" cy="425.0" rx="2.6" ry="2.3" fill="#30d8b0"/><ellipse cx="271.4" cy="425.0" rx="1.9" ry="1.7" fill="#f0e020"/><ellipse cx="271.4" cy="425.0" rx="1.2" ry="1.1" fill="#e01818"/><ellipse cx="282.88" cy="456.41" rx="2.78" ry="0.7" fill="#7a7a7a"/><ellipse cx="294.67" cy="456.41" rx="2.78" ry="0.7" fill="#7a7a7a"/><use href="#mouse" x="280.40" y="420.00" width="16.75" height="39.00"/><ellipse cx="288.8" cy="425.5" rx="4.6" ry="4.4" fill="#3a2cf0"/><ellipse cx="288.8" cy="425.5" rx="3.5" ry="3.3" fill="#30d8a0"/><ellipse cx="288.8" cy="425.5" rx="2.8" ry="2.6" fill="#f0e020"/><ellipse cx="288.8" cy="425.5" rx="2.1" ry="1.9" fill="#e01818"/><ellipse cx="300.23" cy="456.41" rx="2.78" ry="0.7" fill="#7a7a7a"/><ellipse cx="312.02" cy="456.41" rx="2.78" ry="0.7" fill="#7a7a7a"/><use href="#mouse" x="297.75" y="420.00" width="16.75" height="39.00"/><use href="#msil" x="297.45" y="431.70" width="17.35" height="28.08" fill="url(#spd)"/><use href="#msil" x="298.25" y="431.70" width="15.75" height="26.52" fill="#3a2cf0"/><ellipse cx="306.1" cy="441.3" rx="2.6" ry="4.0" fill="#5070f8"/><ellipse cx="306.1" cy="425.5" rx="4.6" ry="4.4" fill="#3a2cf0"/><ellipse cx="306.1" cy="425.5" rx="3.5" ry="3.3" fill="#30d8a0"/><ellipse cx="306.1" cy="425.5" rx="2.8" ry="2.6" fill="#f0e020"/><ellipse cx="306.1" cy="425.5" rx="2.1" ry="1.9" fill="#e01818"/><rect x="314.80" y="419.40" width="17.65" height="40.10" fill="url(#spk)"/><ellipse cx="317.58" cy="456.41" rx="2.78" ry="0.7" fill="#7a7a7a"/><ellipse cx="329.37" cy="456.41" rx="2.78" ry="0.7" fill="#7a7a7a"/><use href="#mouse" x="315.10" y="420.00" width="16.75" height="39.00"/><use href="#rsil" x="314.50" y="419.70" width="17.95" height="39.80" fill="#3040e8"/><use href="#rsil" x="315.40" y="420.60" width="16.15" height="37.80" fill="#58d878"/><use href="#rsil" x="317.58" y="421.39" width="11.80" height="35.02" fill="#d41a16"/><ellipse cx="326.9" cy="436.1" rx="2.1" ry="3.2" fill="#e8e030"/><ellipse cx="320.4" cy="444.1" rx="1.7" ry="3.6" fill="#70e050"/><ellipse cx="248.18" cy="496.12" rx="2.78" ry="0.7" fill="#7a7a7a"/><ellipse cx="259.97" cy="496.12" rx="2.78" ry="0.7" fill="#7a7a7a"/><use href="#mouse" x="245.70" y="459.80" width="16.75" height="38.90"/><ellipse cx="265.53" cy="496.12" rx="2.78" ry="0.7" fill="#7a7a7a"/><ellipse cx="277.32" cy="496.12" rx="2.78" ry="0.7" fill="#7a7a7a"/><use href="#mouse" x="263.05" y="459.80" width="16.75" height="38.90"/><ellipse cx="271.4" cy="464.4" rx="1.9" ry="1.7" fill="#3a2cf0"/><ellipse cx="282.88" cy="496.12" rx="2.78" ry="0.7" fill="#7a7a7a"/><ellipse cx="294.67" cy="496.12" rx="2.78" ry="0.7" fill="#7a7a7a"/><use href="#mouse" x="280.40" y="459.80" width="16.75" height="38.90"/><ellipse cx="288.8" cy="465.3" rx="4.6" ry="4.4" fill="#3a2cf0"/><ellipse cx="288.8" cy="465.3" rx="3.5" ry="3.3" fill="#30d8a0"/><ellipse cx="288.8" cy="465.3" rx="2.8" ry="2.6" fill="#f0e020"/><ellipse cx="288.8" cy="465.3" rx="2.1" ry="1.9" fill="#e01818"/><rect x="297.45" y="459.20" width="17.65" height="40.00" fill="url(#spk)"/><use href="#rsil" x="296.85" y="459.00" width="18.55" height="40.50" fill="#2a70e8"/><use href="#rsil" x="297.45" y="459.50" width="17.35" height="39.70" fill="#60d890"/><use href="#rsil" x="297.95" y="460.00" width="16.35" height="38.70" fill="#d41a16"/><ellipse cx="248.18" cy="535.91" rx="2.78" ry="0.7" fill="#7a7a7a"/><ellipse cx="259.97" cy="535.91" rx="2.78" ry="0.7" fill="#7a7a7a"/><use href="#mouse" x="245.70" y="499.50" width="16.75" height="39.00"/><ellipse cx="265.53" cy="535.91" rx="2.78" ry="0.7" fill="#7a7a7a"/><ellipse cx="277.32" cy="535.91" rx="2.78" ry="0.7" fill="#7a7a7a"/><use href="#mouse" x="263.05" y="499.50" width="16.75" height="39.00"/><ellipse cx="282.88" cy="535.91" rx="2.78" ry="0.7" fill="#7a7a7a"/><ellipse cx="294.67" cy="535.91" rx="2.78" ry="0.7" fill="#7a7a7a"/><use href="#mouse" x="280.40" y="499.50" width="16.75" height="39.00"/><ellipse cx="288.8" cy="505.0" rx="4.6" ry="4.4" fill="#3a2cf0"/><ellipse cx="288.8" cy="505.0" rx="3.5" ry="3.3" fill="#30d8a0"/><ellipse cx="288.8" cy="505.0" rx="2.8" ry="2.6" fill="#f0e020"/><ellipse cx="288.8" cy="505.0" rx="2.1" ry="1.9" fill="#e01818"/><rect x="297.45" y="498.90" width="17.65" height="40.10" fill="url(#spk)"/><use href="#rsil" x="296.85" y="498.70" width="18.55" height="40.60" fill="#2a70e8"/><use href="#rsil" x="297.45" y="499.20" width="17.35" height="39.80" fill="#60d890"/><use href="#rsil" x="297.95" y="499.70" width="16.35" height="38.80" fill="#d41a16"/><ellipse cx="248.18" cy="576.64" rx="2.78" ry="0.7" fill="#7a7a7a"/><ellipse cx="259.97" cy="576.64" rx="2.78" ry="0.7" fill="#7a7a7a"/><use href="#mouse" x="245.70" y="539.30" width="16.75" height="40.00"/><ellipse cx="265.53" cy="576.64" rx="2.78" ry="0.7" fill="#7a7a7a"/><ellipse cx="277.32" cy="576.64" rx="2.78" ry="0.7" fill="#7a7a7a"/><use href="#mouse" x="263.05" y="539.30" width="16.75" height="40.00"/><ellipse cx="282.88" cy="576.64" rx="2.78" ry="0.7" fill="#7a7a7a"/><ellipse cx="294.67" cy="576.64" rx="2.78" ry="0.7" fill="#7a7a7a"/><use href="#mouse" x="280.40" y="539.30" width="16.75" height="40.00"/><ellipse cx="288.8" cy="544.9" rx="4.6" ry="4.4" fill="#3a2cf0"/><ellipse cx="288.8" cy="544.9" rx="3.5" ry="3.3" fill="#30d8a0"/><ellipse cx="288.8" cy="544.9" rx="2.8" ry="2.6" fill="#f0e020"/><ellipse cx="288.8" cy="544.9" rx="2.1" ry="1.9" fill="#e01818"/><text x="422.8" y="203" font-size="11.3" font-weight="bold" text-anchor="middle" fill="#111">CAR T</text><text x="422.8" y="216.4" font-size="11.3" font-weight="bold" text-anchor="middle" fill="#111">i.v.</text><path d="M361.00 220.20 L485.00 220.20 L485.00 260.00 L485.00 260.00 L485.00 299.90 L467.29 299.90 L467.29 339.70 L467.29 339.70 L467.29 379.50 L449.57 379.50 L449.57 419.40 L449.57 419.40 L449.57 459.20 L449.57 459.20 L449.57 498.90 L449.57 498.90 L449.57 538.70 L449.57 538.70 L449.57 579.50 L361.00 579.50 Z" fill="url(#bgp)"/><ellipse cx="363.83" cy="257.21" rx="2.83" ry="0.7" fill="#7a7a7a"/><ellipse cx="375.88" cy="257.21" rx="2.83" ry="0.7" fill="#7a7a7a"/><use href="#mouse" x="361.30" y="220.80" width="17.11" height="39.00"/><ellipse cx="369.9" cy="225.4" rx="1.9" ry="1.7" fill="#3a2cf0"/><ellipse cx="381.55" cy="257.21" rx="2.83" ry="0.7" fill="#7a7a7a"/><ellipse cx="393.59" cy="257.21" rx="2.83" ry="0.7" fill="#7a7a7a"/><use href="#mouse" x="379.01" y="220.80" width="17.11" height="39.00"/><ellipse cx="399.26" cy="257.21" rx="2.83" ry="0.7" fill="#7a7a7a"/><ellipse cx="411.31" cy="257.21" rx="2.83" ry="0.7" fill="#7a7a7a"/><use href="#mouse" x="396.73" y="220.80" width="17.11" height="39.00"/><ellipse cx="405.3" cy="225.4" rx="1.9" ry="1.7" fill="#3a2cf0"/><ellipse cx="416.98" cy="257.21" rx="2.83" ry="0.7" fill="#7a7a7a"/><ellipse cx="429.02" cy="257.21" rx="2.83" ry="0.7" fill="#7a7a7a"/><use href="#mouse" x="414.44" y="220.80" width="17.11" height="39.00"/><ellipse cx="434.69" cy="257.21" rx="2.83" ry="0.7" fill="#7a7a7a"/><ellipse cx="446.74" cy="257.21" rx="2.83" ry="0.7" fill="#7a7a7a"/><use href="#mouse" x="432.16" y="220.80" width="17.11" height="39.00"/><ellipse cx="440.7" cy="225.8" rx="3.8" ry="3.4" fill="#3a2cf0"/><ellipse cx="440.7" cy="225.8" rx="2.6" ry="2.3" fill="#30d8b0"/><ellipse cx="440.7" cy="225.8" rx="1.9" ry="1.7" fill="#f0e020"/><ellipse cx="440.7" cy="225.8" rx="1.2" ry="1.1" fill="#e01818"/><ellipse cx="452.41" cy="257.21" rx="2.83" ry="0.7" fill="#7a7a7a"/><ellipse cx="464.45" cy="257.21" rx="2.83" ry="0.7" fill="#7a7a7a"/><use href="#mouse" x="449.87" y="220.80" width="17.11" height="39.00"/><ellipse cx="470.12" cy="257.21" rx="2.83" ry="0.7" fill="#7a7a7a"/><ellipse cx="482.17" cy="257.21" rx="2.83" ry="0.7" fill="#7a7a7a"/><use href="#mouse" x="467.59" y="220.80" width="17.11" height="39.00"/><ellipse cx="476.1" cy="225.8" rx="3.8" ry="3.4" fill="#3a2cf0"/><ellipse cx="476.1" cy="225.8" rx="2.6" ry="2.3" fill="#30d8b0"/><ellipse cx="476.1" cy="225.8" rx="1.9" ry="1.7" fill="#f0e020"/><ellipse cx="476.1" cy="225.8" rx="1.2" ry="1.1" fill="#e01818"/><ellipse cx="363.83" cy="297.11" rx="2.83" ry="0.7" fill="#7a7a7a"/><ellipse cx="375.88" cy="297.11" rx="2.83" ry="0.7" fill="#7a7a7a"/><use href="#mouse" x="361.30" y="260.60" width="17.11" height="39.10"/><ellipse cx="369.9" cy="265.2" rx="1.9" ry="1.7" fill="#3a2cf0"/><ellipse cx="381.55" cy="297.11" rx="2.83" ry="0.7" fill="#7a7a7a"/><ellipse cx="393.59" cy="297.11" rx="2.83" ry="0.7" fill="#7a7a7a"/><use href="#mouse" x="379.01" y="260.60" width="17.11" height="39.10"/><ellipse cx="387.6" cy="265.6" rx="3.8" ry="3.4" fill="#3a2cf0"/><ellipse cx="387.6" cy="265.6" rx="2.6" ry="2.3" fill="#30d8b0"/><ellipse cx="387.6" cy="265.6" rx="1.9" ry="1.7" fill="#f0e020"/><ellipse cx="387.6" cy="265.6" rx="1.2" ry="1.1" fill="#e01818"/><ellipse cx="399.26" cy="297.11" rx="2.83" ry="0.7" fill="#7a7a7a"/><ellipse cx="411.31" cy="297.11" rx="2.83" ry="0.7" fill="#7a7a7a"/><use href="#mouse" x="396.73" y="260.60" width="17.11" height="39.10"/><ellipse cx="405.3" cy="293.5" rx="2.5" ry="2.8" fill="#3a2cf0"/><ellipse cx="405.3" cy="265.6" rx="3.8" ry="3.4" fill="#3a2cf0"/><ellipse cx="405.3" cy="265.6" rx="2.6" ry="2.3" fill="#30d8b0"/><ellipse cx="405.3" cy="265.6" rx="1.9" ry="1.7" fill="#f0e020"/><ellipse cx="405.3" cy="265.6" rx="1.2" ry="1.1" fill="#e01818"/><ellipse cx="416.98" cy="297.11" rx="2.83" ry="0.7" fill="#7a7a7a"/><ellipse cx="429.02" cy="297.11" rx="2.83" ry="0.7" fill="#7a7a7a"/><use href="#mouse" x="414.44" y="260.60" width="17.11" height="39.10"/><ellipse cx="423.0" cy="265.2" rx="1.9" ry="1.7" fill="#3a2cf0"/><ellipse cx="434.69" cy="297.11" rx="2.83" ry="0.7" fill="#7a7a7a"/><ellipse cx="446.74" cy="297.11" rx="2.83" ry="0.7" fill="#7a7a7a"/><use href="#mouse" x="432.16" y="260.60" width="17.11" height="39.10"/><ellipse cx="440.7" cy="265.6" rx="3.8" ry="3.4" fill="#3a2cf0"/><ellipse cx="440.7" cy="265.6" rx="2.6" ry="2.3" fill="#30d8b0"/><ellipse cx="440.7" cy="265.6" rx="1.9" ry="1.7" fill="#f0e020"/><ellipse cx="440.7" cy="265.6" rx="1.2" ry="1.1" fill="#e01818"/><ellipse cx="452.41" cy="297.11" rx="2.83" ry="0.7" fill="#7a7a7a"/><ellipse cx="464.45" cy="297.11" rx="2.83" ry="0.7" fill="#7a7a7a"/><use href="#mouse" x="449.87" y="260.60" width="17.11" height="39.10"/><ellipse cx="458.4" cy="265.2" rx="1.9" ry="1.7" fill="#3a2cf0"/><ellipse cx="470.12" cy="297.11" rx="2.83" ry="0.7" fill="#7a7a7a"/><ellipse cx="482.17" cy="297.11" rx="2.83" ry="0.7" fill="#7a7a7a"/><use href="#mouse" x="467.59" y="260.60" width="17.11" height="39.10"/><ellipse cx="476.1" cy="265.6" rx="3.8" ry="3.4" fill="#3a2cf0"/><ellipse cx="476.1" cy="265.6" rx="2.6" ry="2.3" fill="#30d8b0"/><ellipse cx="476.1" cy="265.6" rx="1.9" ry="1.7" fill="#f0e020"/><ellipse cx="476.1" cy="265.6" rx="1.2" ry="1.1" fill="#e01818"/><ellipse cx="363.83" cy="336.91" rx="2.83" ry="0.7" fill="#7a7a7a"/><ellipse cx="375.88" cy="336.91" rx="2.83" ry="0.7" fill="#7a7a7a"/><use href="#mouse" x="361.30" y="300.50" width="17.11" height="39.00"/><ellipse cx="381.55" cy="336.91" rx="2.83" ry="0.7" fill="#7a7a7a"/><ellipse cx="393.59" cy="336.91" rx="2.83" ry="0.7" fill="#7a7a7a"/><use href="#mouse" x="379.01" y="300.50" width="17.11" height="39.00"/><ellipse cx="399.26" cy="336.91" rx="2.83" ry="0.7" fill="#7a7a7a"/><ellipse cx="411.31" cy="336.91" rx="2.83" ry="0.7" fill="#7a7a7a"/><use href="#mouse" x="396.73" y="300.50" width="17.11" height="39.00"/><ellipse cx="405.3" cy="333.3" rx="2.5" ry="2.8" fill="#3a2cf0"/><ellipse cx="405.3" cy="305.5" rx="3.8" ry="3.4" fill="#3a2cf0"/><ellipse cx="405.3" cy="305.5" rx="2.6" ry="2.3" fill="#30d8b0"/><ellipse cx="405.3" cy="305.5" rx="1.9" ry="1.7" fill="#f0e020"/><ellipse cx="405.3" cy="305.5" rx="1.2" ry="1.1" fill="#e01818"/><ellipse cx="416.98" cy="336.91" rx="2.83" ry="0.7" fill="#7a7a7a"/><ellipse cx="429.02" cy="336.91" rx="2.83" ry="0.7" fill="#7a7a7a"/><use href="#mouse" x="414.44" y="300.50" width="17.11" height="39.00"/><ellipse cx="423.0" cy="305.1" rx="1.9" ry="1.7" fill="#3a2cf0"/><ellipse cx="434.69" cy="336.91" rx="2.83" ry="0.7" fill="#7a7a7a"/><ellipse cx="446.74" cy="336.91" rx="2.83" ry="0.7" fill="#7a7a7a"/><use href="#mouse" x="432.16" y="300.50" width="17.11" height="39.00"/><ellipse cx="440.7" cy="306.0" rx="4.6" ry="4.4" fill="#3a2cf0"/><ellipse cx="440.7" cy="306.0" rx="3.5" ry="3.3" fill="#30d8a0"/><ellipse cx="440.7" cy="306.0" rx="2.8" ry="2.6" fill="#f0e020"/><ellipse cx="440.7" cy="306.0" rx="2.1" ry="1.9" fill="#e01818"/><ellipse cx="452.41" cy="336.91" rx="2.83" ry="0.7" fill="#7a7a7a"/><ellipse cx="464.45" cy="336.91" rx="2.83" ry="0.7" fill="#7a7a7a"/><use href="#mouse" x="449.87" y="300.50" width="17.11" height="39.00"/><ellipse cx="458.4" cy="305.1" rx="1.9" ry="1.7" fill="#3a2cf0"/><ellipse cx="363.83" cy="376.71" rx="2.83" ry="0.7" fill="#7a7a7a"/><ellipse cx="375.88" cy="376.71" rx="2.83" ry="0.7" fill="#7a7a7a"/><use href="#mouse" x="361.30" y="340.30" width="17.11" height="39.00"/><ellipse cx="381.55" cy="376.71" rx="2.83" ry="0.7" fill="#7a7a7a"/><ellipse cx="393.59" cy="376.71" rx="2.83" ry="0.7" fill="#7a7a7a"/><use href="#mouse" x="379.01" y="340.30" width="17.11" height="39.00"/><ellipse cx="399.26" cy="376.71" rx="2.83" ry="0.7" fill="#7a7a7a"/><ellipse cx="411.31" cy="376.71" rx="2.83" ry="0.7" fill="#7a7a7a"/><use href="#mouse" x="396.73" y="340.30" width="17.11" height="39.00"/><ellipse cx="405.3" cy="344.9" rx="1.9" ry="1.7" fill="#3a2cf0"/><ellipse cx="416.98" cy="376.71" rx="2.83" ry="0.7" fill="#7a7a7a"/><ellipse cx="429.02" cy="376.71" rx="2.83" ry="0.7" fill="#7a7a7a"/><use href="#mouse" x="414.44" y="340.30" width="17.11" height="39.00"/><ellipse cx="423.0" cy="344.9" rx="1.9" ry="1.7" fill="#3a2cf0"/><ellipse cx="434.69" cy="376.71" rx="2.83" ry="0.7" fill="#7a7a7a"/><ellipse cx="446.74" cy="376.71" rx="2.83" ry="0.7" fill="#7a7a7a"/><use href="#mouse" x="432.16" y="340.30" width="17.11" height="39.00"/><ellipse cx="440.7" cy="345.8" rx="4.6" ry="4.4" fill="#3a2cf0"/><ellipse cx="440.7" cy="345.8" rx="3.5" ry="3.3" fill="#30d8a0"/><ellipse cx="440.7" cy="345.8" rx="2.8" ry="2.6" fill="#f0e020"/><ellipse cx="440.7" cy="345.8" rx="2.1" ry="1.9" fill="#e01818"/><ellipse cx="452.41" cy="376.71" rx="2.83" ry="0.7" fill="#7a7a7a"/><ellipse cx="464.45" cy="376.71" rx="2.83" ry="0.7" fill="#7a7a7a"/><use href="#mouse" x="449.87" y="340.30" width="17.11" height="39.00"/><ellipse cx="363.83" cy="416.61" rx="2.83" ry="0.7" fill="#7a7a7a"/><ellipse cx="375.88" cy="416.61" rx="2.83" ry="0.7" fill="#7a7a7a"/><use href="#mouse" x="361.30" y="380.10" width="17.11" height="39.10"/><ellipse cx="381.55" cy="416.61" rx="2.83" ry="0.7" fill="#7a7a7a"/><ellipse cx="393.59" cy="416.61" rx="2.83" ry="0.7" fill="#7a7a7a"/><use href="#mouse" x="379.01" y="380.10" width="17.11" height="39.10"/><ellipse cx="399.26" cy="416.61" rx="2.83" ry="0.7" fill="#7a7a7a"/><ellipse cx="411.31" cy="416.61" rx="2.83" ry="0.7" fill="#7a7a7a"/><use href="#mouse" x="396.73" y="380.10" width="17.11" height="39.10"/><ellipse cx="405.3" cy="384.7" rx="1.9" ry="1.7" fill="#3a2cf0"/><ellipse cx="416.98" cy="416.61" rx="2.83" ry="0.7" fill="#7a7a7a"/><ellipse cx="429.02" cy="416.61" rx="2.83" ry="0.7" fill="#7a7a7a"/><use href="#mouse" x="414.44" y="380.10" width="17.11" height="39.10"/><ellipse cx="434.69" cy="416.61" rx="2.83" ry="0.7" fill="#7a7a7a"/><ellipse cx="446.74" cy="416.61" rx="2.83" ry="0.7" fill="#7a7a7a"/><use href="#mouse" x="432.16" y="380.10" width="17.11" height="39.10"/><ellipse cx="440.7" cy="385.6" rx="4.6" ry="4.4" fill="#3a2cf0"/><ellipse cx="440.7" cy="385.6" rx="3.5" ry="3.3" fill="#30d8a0"/><ellipse cx="440.7" cy="385.6" rx="2.8" ry="2.6" fill="#f0e020"/><ellipse cx="440.7" cy="385.6" rx="2.1" ry="1.9" fill="#e01818"/><ellipse cx="363.83" cy="456.41" rx="2.83" ry="0.7" fill="#7a7a7a"/><ellipse cx="375.88" cy="456.41" rx="2.83" ry="0.7" fill="#7a7a7a"/><use href="#mouse" x="361.30" y="420.00" width="17.11" height="39.00"/><ellipse cx="381.55" cy="456.41" rx="2.83" ry="0.7" fill="#7a7a7a"/><ellipse cx="393.59" cy="456.41" rx="2.83" ry="0.7" fill="#7a7a7a"/><use href="#mouse" x="379.01" y="420.00" width="17.11" height="39.00"/><ellipse cx="399.26" cy="456.41" rx="2.83" ry="0.7" fill="#7a7a7a"/><ellipse cx="411.31" cy="456.41" rx="2.83" ry="0.7" fill="#7a7a7a"/><use href="#mouse" x="396.73" y="420.00" width="17.11" height="39.00"/><ellipse cx="405.3" cy="452.0" rx="3.5" ry="3.6" fill="#3a2cf0"/><ellipse cx="405.3" cy="452.0" rx="1.6" ry="1.6" fill="#4080f8"/><ellipse cx="405.3" cy="439.3" rx="1.4" ry="4.0" fill="url(#spd)"/><ellipse cx="405.3" cy="426.1" rx="4.4" ry="4.6" fill="#3a2cf0"/><ellipse cx="405.3" cy="426.1" rx="2.6" ry="2.6" fill="#40c0f0"/><ellipse cx="405.3" cy="426.1" rx="1.4" ry="1.4" fill="#80f0d0"/><ellipse cx="416.98" cy="456.41" rx="2.83" ry="0.7" fill="#7a7a7a"/><ellipse cx="429.02" cy="456.41" rx="2.83" ry="0.7" fill="#7a7a7a"/><use href="#mouse" x="414.44" y="420.00" width="17.11" height="39.00"/><ellipse cx="423.0" cy="425.0" rx="3.8" ry="3.4" fill="#3a2cf0"/><ellipse cx="423.0" cy="425.0" rx="2.6" ry="2.3" fill="#30d8b0"/><ellipse cx="423.0" cy="425.0" rx="1.9" ry="1.7" fill="#f0e020"/><ellipse cx="423.0" cy="425.0" rx="1.2" ry="1.1" fill="#e01818"/><ellipse cx="434.69" cy="456.41" rx="2.83" ry="0.7" fill="#7a7a7a"/><ellipse cx="446.74" cy="456.41" rx="2.83" ry="0.7" fill="#7a7a7a"/><use href="#mouse" x="432.16" y="420.00" width="17.11" height="39.00"/><use href="#msil" x="432.16" y="431.70" width="17.11" height="27.30" fill="url(#spl)"/><ellipse cx="440.7" cy="425.5" rx="4.6" ry="4.4" fill="#3a2cf0"/><ellipse cx="440.7" cy="425.5" rx="3.5" ry="3.3" fill="#30d8a0"/><ellipse cx="440.7" cy="425.5" rx="2.8" ry="2.6" fill="#f0e020"/><ellipse cx="440.7" cy="425.5" rx="2.1" ry="1.9" fill="#e01818"/><ellipse cx="363.83" cy="496.12" rx="2.83" ry="0.7" fill="#7a7a7a"/><ellipse cx="375.88" cy="496.12" rx="2.83" ry="0.7" fill="#7a7a7a"/><use href="#mouse" x="361.30" y="459.80" width="17.11" height="38.90"/><ellipse cx="381.55" cy="496.12" rx="2.83" ry="0.7" fill="#7a7a7a"/><ellipse cx="393.59" cy="496.12" rx="2.83" ry="0.7" fill="#7a7a7a"/><use href="#mouse" x="379.01" y="459.80" width="17.11" height="38.90"/><ellipse cx="399.26" cy="496.12" rx="2.83" ry="0.7" fill="#7a7a7a"/><ellipse cx="411.31" cy="496.12" rx="2.83" ry="0.7" fill="#7a7a7a"/><use href="#mouse" x="396.73" y="459.80" width="17.11" height="38.90"/><ellipse cx="405.3" cy="491.8" rx="3.5" ry="3.6" fill="#3a2cf0"/><ellipse cx="405.3" cy="491.8" rx="1.6" ry="1.6" fill="#4080f8"/><ellipse cx="405.3" cy="479.0" rx="1.4" ry="4.0" fill="url(#spd)"/><ellipse cx="405.3" cy="465.9" rx="4.4" ry="4.6" fill="#3a2cf0"/><ellipse cx="405.3" cy="465.9" rx="2.6" ry="2.6" fill="#40c0f0"/><ellipse cx="405.3" cy="465.9" rx="1.4" ry="1.4" fill="#80f0d0"/><ellipse cx="416.98" cy="496.12" rx="2.83" ry="0.7" fill="#7a7a7a"/><ellipse cx="429.02" cy="496.12" rx="2.83" ry="0.7" fill="#7a7a7a"/><use href="#mouse" x="414.44" y="459.80" width="17.11" height="38.90"/><ellipse cx="423.0" cy="464.8" rx="3.8" ry="3.4" fill="#3a2cf0"/><ellipse cx="423.0" cy="464.8" rx="2.6" ry="2.3" fill="#30d8b0"/><ellipse cx="423.0" cy="464.8" rx="1.9" ry="1.7" fill="#f0e020"/><ellipse cx="423.0" cy="464.8" rx="1.2" ry="1.1" fill="#e01818"/><ellipse cx="434.69" cy="496.12" rx="2.83" ry="0.7" fill="#7a7a7a"/><ellipse cx="446.74" cy="496.12" rx="2.83" ry="0.7" fill="#7a7a7a"/><use href="#mouse" x="432.16" y="459.80" width="17.11" height="38.90"/><ellipse cx="440.7" cy="465.3" rx="4.6" ry="4.4" fill="#3a2cf0"/><ellipse cx="440.7" cy="465.3" rx="3.5" ry="3.3" fill="#30d8a0"/><ellipse cx="440.7" cy="465.3" rx="2.8" ry="2.6" fill="#f0e020"/><ellipse cx="440.7" cy="465.3" rx="2.1" ry="1.9" fill="#e01818"/><ellipse cx="363.83" cy="535.91" rx="2.83" ry="0.7" fill="#7a7a7a"/><ellipse cx="375.88" cy="535.91" rx="2.83" ry="0.7" fill="#7a7a7a"/><use href="#mouse" x="361.30" y="499.50" width="17.11" height="39.00"/><ellipse cx="381.55" cy="535.91" rx="2.83" ry="0.7" fill="#7a7a7a"/><ellipse cx="393.59" cy="535.91" rx="2.83" ry="0.7" fill="#7a7a7a"/><use href="#mouse" x="379.01" y="499.50" width="17.11" height="39.00"/><ellipse cx="399.26" cy="535.91" rx="2.83" ry="0.7" fill="#7a7a7a"/><ellipse cx="411.31" cy="535.91" rx="2.83" ry="0.7" fill="#7a7a7a"/><use href="#mouse" x="396.73" y="499.50" width="17.11" height="39.00"/><ellipse cx="405.3" cy="515.6" rx="3.9" ry="6.4" fill="#3a2cf0"/><ellipse cx="405.3" cy="505.9" rx="5.2" ry="5.2" fill="#3a2cf0"/><ellipse cx="405.3" cy="505.9" rx="3.9" ry="3.9" fill="#30c8e0"/><ellipse cx="405.3" cy="505.9" rx="2.9" ry="2.9" fill="#50e060"/><ellipse cx="405.3" cy="505.9" rx="1.6" ry="1.6" fill="#e8e830"/><ellipse cx="405.3" cy="505.9" rx="0.8" ry="0.8" fill="#e01818"/><ellipse cx="416.98" cy="535.91" rx="2.83" ry="0.7" fill="#7a7a7a"/><ellipse cx="429.02" cy="535.91" rx="2.83" ry="0.7" fill="#7a7a7a"/><use href="#mouse" x="414.44" y="499.50" width="17.11" height="39.00"/><ellipse cx="423.0" cy="504.5" rx="3.8" ry="3.4" fill="#3a2cf0"/><ellipse cx="423.0" cy="504.5" rx="2.6" ry="2.3" fill="#30d8b0"/><ellipse cx="423.0" cy="504.5" rx="1.9" ry="1.7" fill="#f0e020"/><ellipse cx="423.0" cy="504.5" rx="1.2" ry="1.1" fill="#e01818"/><ellipse cx="434.69" cy="535.91" rx="2.83" ry="0.7" fill="#7a7a7a"/><ellipse cx="446.74" cy="535.91" rx="2.83" ry="0.7" fill="#7a7a7a"/><use href="#mouse" x="432.16" y="499.50" width="17.11" height="39.00"/><use href="#msil" x="432.16" y="511.20" width="17.11" height="27.30" fill="url(#spl)"/><ellipse cx="440.7" cy="505.0" rx="4.6" ry="4.4" fill="#3a2cf0"/><ellipse cx="440.7" cy="505.0" rx="3.5" ry="3.3" fill="#30d8a0"/><ellipse cx="440.7" cy="505.0" rx="2.8" ry="2.6" fill="#f0e020"/><ellipse cx="440.7" cy="505.0" rx="2.1" ry="1.9" fill="#e01818"/><ellipse cx="363.83" cy="576.64" rx="2.83" ry="0.7" fill="#7a7a7a"/><ellipse cx="375.88" cy="576.64" rx="2.83" ry="0.7" fill="#7a7a7a"/><use href="#mouse" x="361.30" y="539.30" width="17.11" height="40.00"/><ellipse cx="381.55" cy="576.64" rx="2.83" ry="0.7" fill="#7a7a7a"/><ellipse cx="393.59" cy="576.64" rx="2.83" ry="0.7" fill="#7a7a7a"/><use href="#mouse" x="379.01" y="539.30" width="17.11" height="40.00"/><ellipse cx="399.26" cy="576.64" rx="2.83" ry="0.7" fill="#7a7a7a"/><ellipse cx="411.31" cy="576.64" rx="2.83" ry="0.7" fill="#7a7a7a"/><use href="#mouse" x="396.73" y="539.30" width="17.11" height="40.00"/><ellipse cx="405.3" cy="545.5" rx="4.4" ry="4.6" fill="#3a2cf0"/><ellipse cx="405.3" cy="545.5" rx="2.6" ry="2.6" fill="#40c0f0"/><ellipse cx="405.3" cy="545.5" rx="1.4" ry="1.4" fill="#80f0d0"/><ellipse cx="416.98" cy="576.64" rx="2.83" ry="0.7" fill="#7a7a7a"/><ellipse cx="429.02" cy="576.64" rx="2.83" ry="0.7" fill="#7a7a7a"/><use href="#mouse" x="414.44" y="539.30" width="17.11" height="40.00"/><ellipse cx="423.0" cy="544.4" rx="3.8" ry="3.4" fill="#3a2cf0"/><ellipse cx="423.0" cy="544.4" rx="2.6" ry="2.3" fill="#30d8b0"/><ellipse cx="423.0" cy="544.4" rx="1.9" ry="1.7" fill="#f0e020"/><ellipse cx="423.0" cy="544.4" rx="1.2" ry="1.1" fill="#e01818"/><ellipse cx="434.69" cy="576.64" rx="2.83" ry="0.7" fill="#7a7a7a"/><ellipse cx="446.74" cy="576.64" rx="2.83" ry="0.7" fill="#7a7a7a"/><use href="#mouse" x="432.16" y="539.30" width="17.11" height="40.00"/><ellipse cx="438.6" cy="568.1" rx="3.5" ry="5.7" fill="#3a2cf0"/><ellipse cx="438.6" cy="568.1" rx="1.4" ry="2.4" fill="#60e080"/><ellipse cx="440.7" cy="544.9" rx="4.6" ry="4.4" fill="#3a2cf0"/><ellipse cx="440.7" cy="544.9" rx="3.5" ry="3.3" fill="#30d8a0"/><ellipse cx="440.7" cy="544.9" rx="2.8" ry="2.6" fill="#f0e020"/><ellipse cx="440.7" cy="544.9" rx="2.1" ry="1.9" fill="#e01818"/><text x="567.9" y="203" font-size="11.3" font-weight="bold" text-anchor="middle" fill="#111">CAR T</text><text x="567.9" y="216.4" font-size="11.3" font-weight="bold" text-anchor="middle" fill="#111">i.c.v.</text><path d="M496.60 220.20 L638.70 220.20 L638.70 260.00 L638.70 260.00 L638.70 299.90 L620.94 299.90 L620.94 339.70 L620.94 339.70 L620.94 379.50 L603.18 379.50 L603.18 419.40 L603.18 419.40 L603.18 459.20 L603.18 459.20 L603.18 498.90 L603.18 498.90 L603.18 538.70 L603.18 538.70 L603.18 579.50 L496.60 579.50 Z" fill="url(#bgp)"/><ellipse cx="499.44" cy="257.21" rx="2.84" ry="0.7" fill="#7a7a7a"/><ellipse cx="511.52" cy="257.21" rx="2.84" ry="0.7" fill="#7a7a7a"/><use href="#mouse" x="496.90" y="220.80" width="17.16" height="39.00"/><ellipse cx="505.5" cy="225.4" rx="1.9" ry="1.7" fill="#3a2cf0"/><ellipse cx="517.20" cy="257.21" rx="2.84" ry="0.7" fill="#7a7a7a"/><ellipse cx="529.28" cy="257.21" rx="2.84" ry="0.7" fill="#7a7a7a"/><use href="#mouse" x="514.66" y="220.80" width="17.16" height="39.00"/><ellipse cx="534.97" cy="257.21" rx="2.84" ry="0.7" fill="#7a7a7a"/><ellipse cx="547.05" cy="257.21" rx="2.84" ry="0.7" fill="#7a7a7a"/><use href="#mouse" x="532.42" y="220.80" width="17.16" height="39.00"/><ellipse cx="541.0" cy="225.8" rx="3.8" ry="3.4" fill="#3a2cf0"/><ellipse cx="541.0" cy="225.8" rx="2.6" ry="2.3" fill="#30d8b0"/><ellipse cx="541.0" cy="225.8" rx="1.9" ry="1.7" fill="#f0e020"/><ellipse cx="541.0" cy="225.8" rx="1.2" ry="1.1" fill="#e01818"/><ellipse cx="552.73" cy="257.21" rx="2.84" ry="0.7" fill="#7a7a7a"/><ellipse cx="564.81" cy="257.21" rx="2.84" ry="0.7" fill="#7a7a7a"/><use href="#mouse" x="550.19" y="220.80" width="17.16" height="39.00"/><ellipse cx="570.49" cy="257.21" rx="2.84" ry="0.7" fill="#7a7a7a"/><ellipse cx="582.57" cy="257.21" rx="2.84" ry="0.7" fill="#7a7a7a"/><use href="#mouse" x="567.95" y="220.80" width="17.16" height="39.00"/><ellipse cx="588.25" cy="257.21" rx="2.84" ry="0.7" fill="#7a7a7a"/><ellipse cx="600.33" cy="257.21" rx="2.84" ry="0.7" fill="#7a7a7a"/><use href="#mouse" x="585.71" y="220.80" width="17.16" height="39.00"/><ellipse cx="606.02" cy="257.21" rx="2.84" ry="0.7" fill="#7a7a7a"/><ellipse cx="618.10" cy="257.21" rx="2.84" ry="0.7" fill="#7a7a7a"/><use href="#mouse" x="603.48" y="220.80" width="17.16" height="39.00"/><ellipse cx="612.1" cy="225.4" rx="1.9" ry="1.7" fill="#3a2cf0"/><ellipse cx="623.78" cy="257.21" rx="2.84" ry="0.7" fill="#7a7a7a"/><ellipse cx="635.86" cy="257.21" rx="2.84" ry="0.7" fill="#7a7a7a"/><use href="#mouse" x="621.24" y="220.80" width="17.16" height="39.00"/><ellipse cx="629.8" cy="225.4" rx="1.9" ry="1.7" fill="#3a2cf0"/><ellipse cx="499.44" cy="297.11" rx="2.84" ry="0.7" fill="#7a7a7a"/><ellipse cx="511.52" cy="297.11" rx="2.84" ry="0.7" fill="#7a7a7a"/><use href="#mouse" x="496.90" y="260.60" width="17.16" height="39.10"/><ellipse cx="517.20" cy="297.11" rx="2.84" ry="0.7" fill="#7a7a7a"/><ellipse cx="529.28" cy="297.11" rx="2.84" ry="0.7" fill="#7a7a7a"/><use href="#mouse" x="514.66" y="260.60" width="17.16" height="39.10"/><ellipse cx="534.97" cy="297.11" rx="2.84" ry="0.7" fill="#7a7a7a"/><ellipse cx="547.05" cy="297.11" rx="2.84" ry="0.7" fill="#7a7a7a"/><use href="#mouse" x="532.42" y="260.60" width="17.16" height="39.10"/><ellipse cx="541.0" cy="265.6" rx="3.8" ry="3.4" fill="#3a2cf0"/><ellipse cx="541.0" cy="265.6" rx="2.6" ry="2.3" fill="#30d8b0"/><ellipse cx="541.0" cy="265.6" rx="1.9" ry="1.7" fill="#f0e020"/><ellipse cx="541.0" cy="265.6" rx="1.2" ry="1.1" fill="#e01818"/><ellipse cx="552.73" cy="297.11" rx="2.84" ry="0.7" fill="#7a7a7a"/><ellipse cx="564.81" cy="297.11" rx="2.84" ry="0.7" fill="#7a7a7a"/><use href="#mouse" x="550.19" y="260.60" width="17.16" height="39.10"/><ellipse cx="570.49" cy="297.11" rx="2.84" ry="0.7" fill="#7a7a7a"/><ellipse cx="582.57" cy="297.11" rx="2.84" ry="0.7" fill="#7a7a7a"/><use href="#mouse" x="567.95" y="260.60" width="17.16" height="39.10"/><ellipse cx="576.5" cy="265.2" rx="1.9" ry="1.7" fill="#3a2cf0"/><ellipse cx="588.25" cy="297.11" rx="2.84" ry="0.7" fill="#7a7a7a"/><ellipse cx="600.33" cy="297.11" rx="2.84" ry="0.7" fill="#7a7a7a"/><use href="#mouse" x="585.71" y="260.60" width="17.16" height="39.10"/><ellipse cx="606.02" cy="297.11" rx="2.84" ry="0.7" fill="#7a7a7a"/><ellipse cx="618.10" cy="297.11" rx="2.84" ry="0.7" fill="#7a7a7a"/><use href="#mouse" x="603.48" y="260.60" width="17.16" height="39.10"/><ellipse cx="612.1" cy="265.2" rx="1.9" ry="1.7" fill="#3a2cf0"/><ellipse cx="623.78" cy="297.11" rx="2.84" ry="0.7" fill="#7a7a7a"/><ellipse cx="635.86" cy="297.11" rx="2.84" ry="0.7" fill="#7a7a7a"/><use href="#mouse" x="621.24" y="260.60" width="17.16" height="39.10"/><ellipse cx="499.44" cy="336.91" rx="2.84" ry="0.7" fill="#7a7a7a"/><ellipse cx="511.52" cy="336.91" rx="2.84" ry="0.7" fill="#7a7a7a"/><use href="#mouse" x="496.90" y="300.50" width="17.16" height="39.00"/><ellipse cx="517.20" cy="336.91" rx="2.84" ry="0.7" fill="#7a7a7a"/><ellipse cx="529.28" cy="336.91" rx="2.84" ry="0.7" fill="#7a7a7a"/><use href="#mouse" x="514.66" y="300.50" width="17.16" height="39.00"/><ellipse cx="534.97" cy="336.91" rx="2.84" ry="0.7" fill="#7a7a7a"/><ellipse cx="547.05" cy="336.91" rx="2.84" ry="0.7" fill="#7a7a7a"/><use href="#mouse" x="532.42" y="300.50" width="17.16" height="39.00"/><ellipse cx="541.0" cy="305.5" rx="3.8" ry="3.4" fill="#3a2cf0"/><ellipse cx="541.0" cy="305.5" rx="2.6" ry="2.3" fill="#30d8b0"/><ellipse cx="541.0" cy="305.5" rx="1.9" ry="1.7" fill="#f0e020"/><ellipse cx="541.0" cy="305.5" rx="1.2" ry="1.1" fill="#e01818"/><ellipse cx="552.73" cy="336.91" rx="2.84" ry="0.7" fill="#7a7a7a"/><ellipse cx="564.81" cy="336.91" rx="2.84" ry="0.7" fill="#7a7a7a"/><use href="#mouse" x="550.19" y="300.50" width="17.16" height="39.00"/><ellipse cx="570.49" cy="336.91" rx="2.84" ry="0.7" fill="#7a7a7a"/><ellipse cx="582.57" cy="336.91" rx="2.84" ry="0.7" fill="#7a7a7a"/><use href="#mouse" x="567.95" y="300.50" width="17.16" height="39.00"/><ellipse cx="576.5" cy="305.5" rx="3.8" ry="3.4" fill="#3a2cf0"/><ellipse cx="576.5" cy="305.5" rx="2.6" ry="2.3" fill="#30d8b0"/><ellipse cx="576.5" cy="305.5" rx="1.9" ry="1.7" fill="#f0e020"/><ellipse cx="576.5" cy="305.5" rx="1.2" ry="1.1" fill="#e01818"/><ellipse cx="588.25" cy="336.91" rx="2.84" ry="0.7" fill="#7a7a7a"/><ellipse cx="600.33" cy="336.91" rx="2.84" ry="0.7" fill="#7a7a7a"/><use href="#mouse" x="585.71" y="300.50" width="17.16" height="39.00"/><ellipse cx="606.02" cy="336.91" rx="2.84" ry="0.7" fill="#7a7a7a"/><ellipse cx="618.10" cy="336.91" rx="2.84" ry="0.7" fill="#7a7a7a"/><use href="#mouse" x="603.48" y="300.50" width="17.16" height="39.00"/><ellipse cx="499.44" cy="376.71" rx="2.84" ry="0.7" fill="#7a7a7a"/><ellipse cx="511.52" cy="376.71" rx="2.84" ry="0.7" fill="#7a7a7a"/><use href="#mouse" x="496.90" y="340.30" width="17.16" height="39.00"/><ellipse cx="517.20" cy="376.71" rx="2.84" ry="0.7" fill="#7a7a7a"/><ellipse cx="529.28" cy="376.71" rx="2.84" ry="0.7" fill="#7a7a7a"/><use href="#mouse" x="514.66" y="340.30" width="17.16" height="39.00"/><ellipse cx="534.97" cy="376.71" rx="2.84" ry="0.7" fill="#7a7a7a"/><ellipse cx="547.05" cy="376.71" rx="2.84" ry="0.7" fill="#7a7a7a"/><use href="#mouse" x="532.42" y="340.30" width="17.16" height="39.00"/><ellipse cx="541.0" cy="345.3" rx="3.8" ry="3.4" fill="#3a2cf0"/><ellipse cx="541.0" cy="345.3" rx="2.6" ry="2.3" fill="#30d8b0"/><ellipse cx="541.0" cy="345.3" rx="1.9" ry="1.7" fill="#f0e020"/><ellipse cx="541.0" cy="345.3" rx="1.2" ry="1.1" fill="#e01818"/><ellipse cx="552.73" cy="376.71" rx="2.84" ry="0.7" fill="#7a7a7a"/><ellipse cx="564.81" cy="376.71" rx="2.84" ry="0.7" fill="#7a7a7a"/><use href="#mouse" x="550.19" y="340.30" width="17.16" height="39.00"/><ellipse cx="570.49" cy="376.71" rx="2.84" ry="0.7" fill="#7a7a7a"/><ellipse cx="582.57" cy="376.71" rx="2.84" ry="0.7" fill="#7a7a7a"/><use href="#mouse" x="567.95" y="340.30" width="17.16" height="39.00"/><ellipse cx="588.25" cy="376.71" rx="2.84" ry="0.7" fill="#7a7a7a"/><ellipse cx="600.33" cy="376.71" rx="2.84" ry="0.7" fill="#7a7a7a"/><use href="#mouse" x="585.71" y="340.30" width="17.16" height="39.00"/><ellipse cx="606.02" cy="376.71" rx="2.84" ry="0.7" fill="#7a7a7a"/><ellipse cx="618.10" cy="376.71" rx="2.84" ry="0.7" fill="#7a7a7a"/><use href="#mouse" x="603.48" y="340.30" width="17.16" height="39.00"/><ellipse cx="499.44" cy="416.61" rx="2.84" ry="0.7" fill="#7a7a7a"/><ellipse cx="511.52" cy="416.61" rx="2.84" ry="0.7" fill="#7a7a7a"/><use href="#mouse" x="496.90" y="380.10" width="17.16" height="39.10"/><ellipse cx="517.20" cy="416.61" rx="2.84" ry="0.7" fill="#7a7a7a"/><ellipse cx="529.28" cy="416.61" rx="2.84" ry="0.7" fill="#7a7a7a"/><use href="#mouse" x="514.66" y="380.10" width="17.16" height="39.10"/><ellipse cx="534.97" cy="416.61" rx="2.84" ry="0.7" fill="#7a7a7a"/><ellipse cx="547.05" cy="416.61" rx="2.84" ry="0.7" fill="#7a7a7a"/><use href="#mouse" x="532.42" y="380.10" width="17.16" height="39.10"/><ellipse cx="552.73" cy="416.61" rx="2.84" ry="0.7" fill="#7a7a7a"/><ellipse cx="564.81" cy="416.61" rx="2.84" ry="0.7" fill="#7a7a7a"/><use href="#mouse" x="550.19" y="380.10" width="17.16" height="39.10"/><ellipse cx="570.49" cy="416.61" rx="2.84" ry="0.7" fill="#7a7a7a"/><ellipse cx="582.57" cy="416.61" rx="2.84" ry="0.7" fill="#7a7a7a"/><use href="#mouse" x="567.95" y="380.10" width="17.16" height="39.10"/><ellipse cx="588.25" cy="416.61" rx="2.84" ry="0.7" fill="#7a7a7a"/><ellipse cx="600.33" cy="416.61" rx="2.84" ry="0.7" fill="#7a7a7a"/><use href="#mouse" x="585.71" y="380.10" width="17.16" height="39.10"/><ellipse cx="499.44" cy="456.41" rx="2.84" ry="0.7" fill="#7a7a7a"/><ellipse cx="511.52" cy="456.41" rx="2.84" ry="0.7" fill="#7a7a7a"/><use href="#mouse" x="496.90" y="420.00" width="17.16" height="39.00"/><ellipse cx="517.20" cy="456.41" rx="2.84" ry="0.7" fill="#7a7a7a"/><ellipse cx="529.28" cy="456.41" rx="2.84" ry="0.7" fill="#7a7a7a"/><use href="#mouse" x="514.66" y="420.00" width="17.16" height="39.00"/><ellipse cx="534.97" cy="456.41" rx="2.84" ry="0.7" fill="#7a7a7a"/><ellipse cx="547.05" cy="456.41" rx="2.84" ry="0.7" fill="#7a7a7a"/><use href="#mouse" x="532.42" y="420.00" width="17.16" height="39.00"/><ellipse cx="552.73" cy="456.41" rx="2.84" ry="0.7" fill="#7a7a7a"/><ellipse cx="564.81" cy="456.41" rx="2.84" ry="0.7" fill="#7a7a7a"/><use href="#mouse" x="550.19" y="420.00" width="17.16" height="39.00"/><ellipse cx="558.8" cy="424.6" rx="1.9" ry="1.7" fill="#3a2cf0"/><ellipse cx="570.49" cy="456.41" rx="2.84" ry="0.7" fill="#7a7a7a"/><ellipse cx="582.57" cy="456.41" rx="2.84" ry="0.7" fill="#7a7a7a"/><use href="#mouse" x="567.95" y="420.00" width="17.16" height="39.00"/><ellipse cx="588.25" cy="456.41" rx="2.84" ry="0.7" fill="#7a7a7a"/><ellipse cx="600.33" cy="456.41" rx="2.84" ry="0.7" fill="#7a7a7a"/><use href="#mouse" x="585.71" y="420.00" width="17.16" height="39.00"/><ellipse cx="499.44" cy="496.12" rx="2.84" ry="0.7" fill="#7a7a7a"/><ellipse cx="511.52" cy="496.12" rx="2.84" ry="0.7" fill="#7a7a7a"/><use href="#mouse" x="496.90" y="459.80" width="17.16" height="38.90"/><ellipse cx="517.20" cy="496.12" rx="2.84" ry="0.7" fill="#7a7a7a"/><ellipse cx="529.28" cy="496.12" rx="2.84" ry="0.7" fill="#7a7a7a"/><use href="#mouse" x="514.66" y="459.80" width="17.16" height="38.90"/><ellipse cx="534.97" cy="496.12" rx="2.84" ry="0.7" fill="#7a7a7a"/><ellipse cx="547.05" cy="496.12" rx="2.84" ry="0.7" fill="#7a7a7a"/><use href="#mouse" x="532.42" y="459.80" width="17.16" height="38.90"/><ellipse cx="552.73" cy="496.12" rx="2.84" ry="0.7" fill="#7a7a7a"/><ellipse cx="564.81" cy="496.12" rx="2.84" ry="0.7" fill="#7a7a7a"/><use href="#mouse" x="550.19" y="459.80" width="17.16" height="38.90"/><ellipse cx="570.49" cy="496.12" rx="2.84" ry="0.7" fill="#7a7a7a"/><ellipse cx="582.57" cy="496.12" rx="2.84" ry="0.7" fill="#7a7a7a"/><use href="#mouse" x="567.95" y="459.80" width="17.16" height="38.90"/><ellipse cx="588.25" cy="496.12" rx="2.84" ry="0.7" fill="#7a7a7a"/><ellipse cx="600.33" cy="496.12" rx="2.84" ry="0.7" fill="#7a7a7a"/><use href="#mouse" x="585.71" y="459.80" width="17.16" height="38.90"/><ellipse cx="499.44" cy="535.91" rx="2.84" ry="0.7" fill="#7a7a7a"/><ellipse cx="511.52" cy="535.91" rx="2.84" ry="0.7" fill="#7a7a7a"/><use href="#mouse" x="496.90" y="499.50" width="17.16" height="39.00"/><ellipse cx="517.20" cy="535.91" rx="2.84" ry="0.7" fill="#7a7a7a"/><ellipse cx="529.28" cy="535.91" rx="2.84" ry="0.7" fill="#7a7a7a"/><use href="#mouse" x="514.66" y="499.50" width="17.16" height="39.00"/><ellipse cx="534.97" cy="535.91" rx="2.84" ry="0.7" fill="#7a7a7a"/><ellipse cx="547.05" cy="535.91" rx="2.84" ry="0.7" fill="#7a7a7a"/><use href="#mouse" x="532.42" y="499.50" width="17.16" height="39.00"/><ellipse cx="552.73" cy="535.91" rx="2.84" ry="0.7" fill="#7a7a7a"/><ellipse cx="564.81" cy="535.91" rx="2.84" ry="0.7" fill="#7a7a7a"/><use href="#mouse" x="550.19" y="499.50" width="17.16" height="39.00"/><ellipse cx="570.49" cy="535.91" rx="2.84" ry="0.7" fill="#7a7a7a"/><ellipse cx="582.57" cy="535.91" rx="2.84" ry="0.7" fill="#7a7a7a"/><use href="#mouse" x="567.95" y="499.50" width="17.16" height="39.00"/><ellipse cx="588.25" cy="535.91" rx="2.84" ry="0.7" fill="#7a7a7a"/><ellipse cx="600.33" cy="535.91" rx="2.84" ry="0.7" fill="#7a7a7a"/><use href="#mouse" x="585.71" y="499.50" width="17.16" height="39.00"/><ellipse cx="499.44" cy="576.64" rx="2.84" ry="0.7" fill="#7a7a7a"/><ellipse cx="511.52" cy="576.64" rx="2.84" ry="0.7" fill="#7a7a7a"/><use href="#mouse" x="496.90" y="539.30" width="17.16" height="40.00"/><ellipse cx="517.20" cy="576.64" rx="2.84" ry="0.7" fill="#7a7a7a"/><ellipse cx="529.28" cy="576.64" rx="2.84" ry="0.7" fill="#7a7a7a"/><use href="#mouse" x="514.66" y="539.30" width="17.16" height="40.00"/><ellipse cx="534.97" cy="576.64" rx="2.84" ry="0.7" fill="#7a7a7a"/><ellipse cx="547.05" cy="576.64" rx="2.84" ry="0.7" fill="#7a7a7a"/><use href="#mouse" x="532.42" y="539.30" width="17.16" height="40.00"/><ellipse cx="552.73" cy="576.64" rx="2.84" ry="0.7" fill="#7a7a7a"/><ellipse cx="564.81" cy="576.64" rx="2.84" ry="0.7" fill="#7a7a7a"/><use href="#mouse" x="550.19" y="539.30" width="17.16" height="40.00"/><ellipse cx="570.49" cy="576.64" rx="2.84" ry="0.7" fill="#7a7a7a"/><ellipse cx="582.57" cy="576.64" rx="2.84" ry="0.7" fill="#7a7a7a"/><use href="#mouse" x="567.95" y="539.30" width="17.16" height="40.00"/><ellipse cx="588.25" cy="576.64" rx="2.84" ry="0.7" fill="#7a7a7a"/><ellipse cx="600.33" cy="576.64" rx="2.84" ry="0.7" fill="#7a7a7a"/><use href="#mouse" x="585.71" y="539.30" width="17.16" height="40.00"/><text x="51.3" y="244.9" font-size="11" font-weight="bold" text-anchor="end" fill="#111">0</text><text x="51.3" y="284.8" font-size="11" font-weight="bold" text-anchor="end" fill="#111">4</text><text x="51.3" y="324.6" font-size="11" font-weight="bold" text-anchor="end" fill="#111">10</text><text x="51.3" y="364.4" font-size="11" font-weight="bold" text-anchor="end" fill="#111">19</text><text x="51.3" y="404.2" font-size="11" font-weight="bold" text-anchor="end" fill="#111">25</text><text x="51.3" y="444.1" font-size="11" font-weight="bold" text-anchor="end" fill="#111">30</text><text x="51.3" y="483.8" font-size="11" font-weight="bold" text-anchor="end" fill="#111">35</text><text x="51.3" y="523.6" font-size="11" font-weight="bold" text-anchor="end" fill="#111">40</text><text transform="translate(23.4,388.4) rotate(-90)" font-size="10.9" font-weight="bold" text-anchor="middle" fill="#111">Days post treatment</text><text x="106.5" y="468.0" font-size="7.4" font-weight="bold" text-anchor="middle" fill="#c8202a">day</text><text x="106.5" y="476.5" font-size="7.4" font-weight="bold" text-anchor="middle" fill="#c8202a">28</text><path d="M103.5 479.5 L109.5 492.8 M109.5 479.5 L103.5 492.8" stroke="#c8202a" stroke-width="2.7"/><text x="125.5" y="468.0" font-size="7.4" font-weight="bold" text-anchor="middle" fill="#c8202a">day</text><text x="125.5" y="476.5" font-size="7.4" font-weight="bold" text-anchor="middle" fill="#c8202a">26</text><path d="M122.5 479.5 L128.5 492.8 M128.5 479.5 L122.5 492.8" stroke="#c8202a" stroke-width="2.7"/><text x="87.5" y="507.7" font-size="7.4" font-weight="bold" text-anchor="middle" fill="#c8202a">day</text><text x="87.5" y="516.2" font-size="7.4" font-weight="bold" text-anchor="middle" fill="#c8202a">32</text><path d="M84.5 519.2 L90.5 532.5 M90.5 519.2 L84.5 532.5" stroke="#c8202a" stroke-width="2.7"/><text x="68.5" y="547.5" font-size="7.4" font-weight="bold" text-anchor="middle" fill="#c8202a">day</text><text x="68.5" y="556.0" font-size="7.4" font-weight="bold" text-anchor="middle" fill="#c8202a">38</text><path d="M65.5 559.0 L71.5 572.3 M71.5 559.0 L65.5 572.3" stroke="#c8202a" stroke-width="2.7"/><text x="226.3" y="468.0" font-size="7.4" font-weight="bold" text-anchor="middle" fill="#c8202a">day</text><text x="226.3" y="476.5" font-size="7.4" font-weight="bold" text-anchor="middle" fill="#c8202a">26</text><path d="M223.3 479.5 L229.3 492.8 M229.3 479.5 L223.3 492.8" stroke="#c8202a" stroke-width="2.7"/><text x="190.7" y="547.5" font-size="7.4" font-weight="bold" text-anchor="middle" fill="#c8202a">day</text><text x="190.7" y="556.0" font-size="7.4" font-weight="bold" text-anchor="middle" fill="#c8202a">39</text><path d="M187.7 559.0 L193.7 572.3 M193.7 559.0 L187.7 572.3" stroke="#c8202a" stroke-width="2.7"/><text x="208.5" y="547.5" font-size="7.4" font-weight="bold" text-anchor="middle" fill="#c8202a">day</text><text x="208.5" y="556.0" font-size="7.4" font-weight="bold" text-anchor="middle" fill="#c8202a">36</text><path d="M205.5 559.0 L211.5 572.3 M211.5 559.0 L205.5 572.3" stroke="#c8202a" stroke-width="2.7"/><text x="155.1" y="588.3" font-size="7.4" font-weight="bold" text-anchor="middle" fill="#c8202a">day</text><text x="155.1" y="596.8" font-size="7.4" font-weight="bold" text-anchor="middle" fill="#c8202a">43</text><path d="M152.1 599.8 L158.1 613.1 M158.1 599.8 L152.1 613.1" stroke="#c8202a" stroke-width="2.7"/><text x="172.9" y="588.3" font-size="7.4" font-weight="bold" text-anchor="middle" fill="#c8202a">day</text><text x="172.9" y="596.8" font-size="7.4" font-weight="bold" text-anchor="middle" fill="#c8202a">43</text><path d="M169.9 599.8 L175.9 613.1 M175.9 599.8 L169.9 613.1" stroke="#c8202a" stroke-width="2.7"/><text x="323.5" y="468.0" font-size="7.4" font-weight="bold" text-anchor="middle" fill="#c8202a">day</text><text x="323.5" y="476.5" font-size="7.4" font-weight="bold" text-anchor="middle" fill="#c8202a">26</text><path d="M320.5 479.5 L326.5 492.8 M326.5 479.5 L320.5 492.8" stroke="#c8202a" stroke-width="2.7"/><text x="306.1" y="547.5" font-size="7.4" font-weight="bold" text-anchor="middle" fill="#c8202a">day</text><text x="306.1" y="556.0" font-size="7.4" font-weight="bold" text-anchor="middle" fill="#c8202a">37</text><path d="M303.1 559.0 L309.1 572.3 M309.1 559.0 L303.1 572.3" stroke="#c8202a" stroke-width="2.7"/><path d="M339.8 304.8 h4.0 v3.8 h2.6 l-4.6 4.8 l-4.6 -4.8 h2.6 z" fill="#000"/><text transform="translate(344.4,315.3) rotate(-90)" font-size="8.5" font-style="italic" font-weight="bold" text-anchor="end" fill="#111">Analysis</text><path d="M475.7 303.8 h4.0 v3.8 h2.6 l-4.6 4.8 l-4.6 -4.8 h2.6 z" fill="#000"/><text transform="translate(480.3,314.3) rotate(-90)" font-size="8.5" font-style="italic" font-weight="bold" text-anchor="end" fill="#111">Analysis</text><path d="M456.8 384.3 h4.0 v3.8 h2.6 l-4.6 4.8 l-4.6 -4.8 h2.6 z" fill="#000"/><text transform="translate(461.4,394.8) rotate(-90)" font-size="8.5" font-style="italic" font-weight="bold" text-anchor="end" fill="#111">Analysis</text><path d="M627.8 304.0 h4.0 v3.8 h2.6 l-4.6 4.8 l-4.6 -4.8 h2.6 z" fill="#000"/><text transform="translate(632.4,314.5) rotate(-90)" font-size="8.5" font-style="italic" font-weight="bold" text-anchor="end" fill="#111">Analysis</text><path d="M609.6 384.4 h4.0 v3.8 h2.6 l-4.6 4.8 l-4.6 -4.8 h2.6 z" fill="#000"/><text transform="translate(614.2,394.9) rotate(-90)" font-size="8.5" font-style="italic" font-weight="bold" text-anchor="end" fill="#111">Analysis</text><rect x="279.2" y="541.2" width="18.8" height="38" fill="none" stroke="#3a5cb4" stroke-width="2"/><rect x="396.6" y="540.6" width="53" height="38.8" fill="none" stroke="#3a5cb4" stroke-width="2"/><rect x="497.4" y="539.8" width="105.8" height="39.2" fill="none" stroke="#c8242a" stroke-width="2"/><linearGradient id="cb" x1="0" y1="0" x2="0" y2="1"><stop offset="0" stop-color="#be3028"/><stop offset="0.1" stop-color="#cc5a2a"/><stop offset="0.16" stop-color="#d88a30"/><stop offset="0.22" stop-color="#f6f43a"/><stop offset="0.33" stop-color="#c4ec38"/><stop offset="0.44" stop-color="#98e634"/><stop offset="0.55" stop-color="#86e690"/><stop offset="0.62" stop-color="#8cf0ec"/><stop offset="0.7" stop-color="#70a8f8"/><stop offset="0.8" stop-color="#4050f0"/><stop offset="1" stop-color="#4a2ae0"/></linearGradient><rect x="670.3" y="240.1" width="11.3" height="258.2" fill="url(#cb)" stroke="#222" stroke-width="0.6"/><line x1="681.6" y1="240.1" x2="690" y2="240.1" stroke="#222" stroke-width="0.9"/><line x1="681.6" y1="250.8" x2="686.9" y2="250.8" stroke="#222" stroke-width="0.9"/><line x1="681.6" y1="261.6" x2="686.9" y2="261.6" stroke="#222" stroke-width="0.9"/><line x1="681.6" y1="272.3" x2="686.9" y2="272.3" stroke="#222" stroke-width="0.9"/><line x1="681.6" y1="283.1" x2="686.9" y2="283.1" stroke="#222" stroke-width="0.9"/><line x1="681.6" y1="293.8" x2="690" y2="293.8" stroke="#222" stroke-width="0.9"/><line x1="681.6" y1="304.5" x2="686.9" y2="304.5" stroke="#222" stroke-width="0.9"/><line x1="681.6" y1="315.3" x2="686.9" y2="315.3" stroke="#222" stroke-width="0.9"/><line x1="681.6" y1="326.0" x2="686.9" y2="326.0" stroke="#222" stroke-width="0.9"/><line x1="681.6" y1="336.8" x2="686.9" y2="336.8" stroke="#222" stroke-width="0.9"/><line x1="681.6" y1="347.5" x2="690" y2="347.5" stroke="#222" stroke-width="0.9"/><line x1="681.6" y1="357.9" x2="686.9" y2="357.9" stroke="#222" stroke-width="0.9"/><line x1="681.6" y1="368.4" x2="686.9" y2="368.4" stroke="#222" stroke-width="0.9"/><line x1="681.6" y1="378.8" x2="686.9" y2="378.8" stroke="#222" stroke-width="0.9"/><line x1="681.6" y1="389.3" x2="686.9" y2="389.3" stroke="#222" stroke-width="0.9"/><line x1="681.6" y1="399.7" x2="690" y2="399.7" stroke="#222" stroke-width="0.9"/><line x1="681.6" y1="410.0" x2="686.9" y2="410.0" stroke="#222" stroke-width="0.9"/><line x1="681.6" y1="420.2" x2="686.9" y2="420.2" stroke="#222" stroke-width="0.9"/><line x1="681.6" y1="430.5" x2="686.9" y2="430.5" stroke="#222" stroke-width="0.9"/><line x1="681.6" y1="440.7" x2="686.9" y2="440.7" stroke="#222" stroke-width="0.9"/><line x1="681.6" y1="451.0" x2="690" y2="451.0" stroke="#222" stroke-width="0.9"/><line x1="681.6" y1="461.3" x2="686.9" y2="461.3" stroke="#222" stroke-width="0.9"/><line x1="681.6" y1="471.6" x2="686.9" y2="471.6" stroke="#222" stroke-width="0.9"/><line x1="681.6" y1="481.9" x2="686.9" y2="481.9" stroke="#222" stroke-width="0.9"/><line x1="681.6" y1="492.2" x2="686.9" y2="492.2" stroke="#222" stroke-width="0.9"/><text x="693.5" y="240.9" font-size="8.8" fill="#222">1.0</text><text x="693.5" y="294.4" font-size="8.8" fill="#222">0.8</text><text x="693.5" y="348.2" font-size="8.8" fill="#222">0.6</text><text x="693.5" y="401.2" font-size="8.8" fill="#222">0.4</text><text x="693.5" y="454.7" font-size="8.8" fill="#222">0.2</text><text x="670.3" y="229.6" font-size="8" fill="#222" textLength="52.4" lengthAdjust="spacingAndGlyphs">Luminescence</text><text x="712.4" y="370.6" font-size="8.8" fill="#222">x10<tspan dy="-3.8" font-size="8.8">6</tspan></text><text x="670.3" y="521.4" font-size="8" fill="#222" textLength="33" lengthAdjust="spacingAndGlyphs">Radiance</text><text x="670.3" y="530.4" font-size="8" fill="#222" textLength="55" lengthAdjust="spacingAndGlyphs">(p/sec/cm<tspan dy="-2.6" font-size="5.5">2</tspan><tspan dy="2.6"> /sr)</tspan></text><rect x="670.3" y="541" width="58.3" height="33.6" fill="none" stroke="#222" stroke-width="0.7"/><text x="672.6" y="551.2" font-size="8" fill="#222" textLength="41.5" lengthAdjust="spacingAndGlyphs">Color Scale</text><text x="672.6" y="560.2" font-size="8" fill="#222" textLength="51" lengthAdjust="spacingAndGlyphs">Min = 3.00e4</text><text x="672.6" y="569.2" font-size="8" fill="#222" textLength="53" lengthAdjust="spacingAndGlyphs">Max = 1.00e6</text>
<text x="21.5" y="634.0" font-size="13" font-weight="bold" fill="#111">D</text><rect x="53.4" y="661.6" width="14.8" height="15.2" fill="none" stroke="#c8242a" stroke-width="0.8"/><text x="74" y="674.4" font-size="11.6" font-weight="bold" fill="#c8242a">ROI</text><rect x="52" y="686" width="40" height="96" fill="#161616"/><rect x="54" y="686" width="1.2" height="96" fill="#262626"/><rect x="58" y="686" width="1.2" height="96" fill="#262626"/><rect x="62" y="686" width="1.2" height="96" fill="#262626"/><rect x="66" y="686" width="1.2" height="96" fill="#262626"/><rect x="70" y="686" width="1.2" height="96" fill="#262626"/><rect x="74" y="686" width="1.2" height="96" fill="#262626"/><rect x="78" y="686" width="1.2" height="96" fill="#262626"/><rect x="82" y="686" width="1.2" height="96" fill="#262626"/><rect x="86" y="686" width="1.2" height="96" fill="#262626"/><rect x="90" y="686" width="1.2" height="96" fill="#262626"/><linearGradient id="dm" x1="0" y1="0" x2="0" y2="1"><stop offset="0" stop-color="#8a8a8a"/><stop offset="0.2" stop-color="#c0c0c0"/><stop offset="0.5" stop-color="#dadada"/><stop offset="0.8" stop-color="#ececec"/><stop offset="1" stop-color="#cfcfcf"/></linearGradient><path d="M71 699 C76 699 79 703 80 708 C86 710 88 716 88 724 C89 735 88 745 89 755 C90 765 86 772 78 775 L72 778 L71 782 L70 778 L64 775 C56 772 53 765 54 755 C55 745 54 735 55 724 C55 716 57 710 62 708 C63 703 66 699 71 699 Z" fill="url(#dm)"/><ellipse cx="54.5" cy="771" rx="3" ry="1.2" fill="#9a9a9a"/><ellipse cx="89" cy="770" rx="3" ry="1.2" fill="#9a9a9a"/><rect x="70" y="686" width="1.5" height="12" fill="#aaa"/><rect x="65" y="699" width="10" height="13.4" rx="1.5" fill="#3a18f0"/><rect x="73" y="702" width="4" height="2.5" fill="#3a18f0"/><rect x="67" y="702" width="4" height="4" fill="#70f0c0"/><rect x="56.2" y="697.4" width="28.4" height="18.4" fill="none" stroke="#c8242a" stroke-width="0.8"/><path d="M84.6 697.4 L124.4 677 M84.6 715.8 L124.4 755.3" stroke="#c8242a" stroke-width="0.9"/><clipPath id="zc"><rect x="123.9" y="676.9" width="113.8" height="78.3"/></clipPath><g clip-path="url(#zc)"><rect x="123.9" y="676.9" width="113.8" height="78.3" fill="#1a1a1a"/><rect x="127" y="676.9" width="5" height="40" fill="#3a3a3a"/><rect x="140" y="676.9" width="4" height="40" fill="#333"/><rect x="150" y="676.9" width="3" height="40" fill="#2e2e2e"/><rect x="208" y="676.9" width="4" height="40" fill="#333"/><rect x="218" y="676.9" width="5" height="40" fill="#3a3a3a"/><rect x="230" y="676.9" width="4" height="40" fill="#333"/><linearGradient id="zm" x1="0" y1="0" x2="0" y2="1"><stop offset="0" stop-color="#7a7a7a"/><stop offset="0.3" stop-color="#b2b2b2"/><stop offset="1" stop-color="#d6d6d6"/></linearGradient><path d="M123 760 L123 730 C126 718 140 712 160 711 C165 690 175 682 188 682 C200 682 206 695 208 711 C222 712 236 716 239 726 L239 760 Z" fill="url(#zm)"/><ellipse cx="134" cy="740" rx="1.5" ry="3" fill="#e0e0e0"/></g><rect x="172.02" y="684.00" width="6.71" height="6.55" fill="#3a18f0"/><rect x="178.58" y="684.00" width="6.71" height="6.55" fill="#3a18f0"/><rect x="185.14" y="684.00" width="6.71" height="6.55" fill="#3a18f0"/><rect x="165.46" y="690.40" width="6.71" height="6.55" fill="#3a18f0"/><rect x="172.02" y="690.40" width="6.71" height="6.55" fill="#3a18f0"/><rect x="178.58" y="690.40" width="6.71" height="6.55" fill="#3a18f0"/><rect x="185.14" y="690.40" width="6.71" height="6.55" fill="#3a18f0"/><rect x="191.70" y="690.40" width="6.71" height="6.55" fill="#3a18f0"/><rect x="158.90" y="696.80" width="6.71" height="6.55" fill="#3a18f0"/><rect x="165.46" y="696.80" width="6.71" height="6.55" fill="#2c30e0"/><rect x="172.02" y="696.80" width="6.71" height="6.55" fill="#78f0d0"/><rect x="178.58" y="696.80" width="6.71" height="6.55" fill="#78f0d0"/><rect x="185.14" y="696.80" width="6.71" height="6.55" fill="#3a18f0"/><rect x="191.70" y="696.80" width="6.71" height="6.55" fill="#3a18f0"/><rect x="158.90" y="703.20" width="6.71" height="6.55" fill="#3a18f0"/><rect x="165.46" y="703.20" width="6.71" height="6.55" fill="#78f080"/><rect x="172.02" y="703.20" width="6.71" height="6.55" fill="#78f0d0"/><rect x="178.58" y="703.20" width="6.71" height="6.55" fill="#60a8f8"/><rect x="185.14" y="703.20" width="6.71" height="6.55" fill="#3a18f0"/><rect x="191.70" y="703.20" width="6.71" height="6.55" fill="#3a18f0"/><rect x="198.26" y="703.20" width="6.71" height="6.55" fill="#3a18f0"/><rect x="158.90" y="709.60" width="6.71" height="6.55" fill="#3a18f0"/><rect x="165.46" y="709.60" width="6.71" height="6.55" fill="#60a8f8"/><rect x="172.02" y="709.60" width="6.71" height="6.55" fill="#60a8f8"/><rect x="178.58" y="709.60" width="6.71" height="6.55" fill="#60a8f8"/><rect x="185.14" y="709.60" width="6.71" height="6.55" fill="#3a18f0"/><rect x="158.90" y="716.00" width="6.71" height="6.55" fill="#3a18f0"/><rect x="165.46" y="716.00" width="6.71" height="6.55" fill="#3a18f0"/><rect x="172.02" y="716.00" width="6.71" height="6.55" fill="#3a18f0"/><rect x="178.58" y="716.00" width="6.71" height="6.55" fill="#3a18f0"/><rect x="185.14" y="716.00" width="6.71" height="6.55" fill="#3a18f0"/><rect x="158.90" y="722.40" width="6.71" height="6.55" fill="#3a18f0"/><rect x="165.46" y="722.40" width="6.71" height="6.55" fill="#3a18f0"/><rect x="172.02" y="722.40" width="6.71" height="6.55" fill="#3a18f0"/><rect x="178.58" y="722.40" width="6.71" height="6.55" fill="#3a18f0"/><rect x="185.14" y="722.40" width="6.71" height="6.55" fill="#3a18f0"/><rect x="158.90" y="728.80" width="6.71" height="6.55" fill="#3a18f0"/><rect x="165.46" y="728.80" width="6.71" height="6.55" fill="#3a18f0"/><rect x="172.02" y="728.80" width="6.71" height="6.55" fill="#3a18f0"/><rect x="178.58" y="728.80" width="6.71" height="6.55" fill="#5010e0"/><path d="M113.4 677 H256 M113.4 755.3 H256 M124.4 655.7 V774.6 M237.8 655.7 V774.6" stroke="#c8242a" stroke-width="0.8" fill="none" stroke-dasharray="4,2.8"/>
<text x="356.2" y="634.4" font-size="13" font-weight="bold" fill="#111">E</text><line x1="407.5" y1="638.9" x2="407.5" y2="782.4" stroke="#444" stroke-width="1"/><line x1="407" y1="781.9" x2="614" y2="781.9" stroke="#444" stroke-width="1"/><text x="398.8" y="785.2" font-size="9" font-weight="bold" text-anchor="end" fill="#111">10</text><text x="399.3" y="782.3" font-size="6.3" font-weight="bold" fill="#111">4</text><text x="398.8" y="761.6" font-size="9" font-weight="bold" text-anchor="end" fill="#111">10</text><text x="399.3" y="758.7" font-size="6.3" font-weight="bold" fill="#111">5</text><text x="398.8" y="738.1" font-size="9" font-weight="bold" text-anchor="end" fill="#111">10</text><text x="399.3" y="735.2" font-size="6.3" font-weight="bold" fill="#111">6</text><text x="398.8" y="714.5" font-size="9" font-weight="bold" text-anchor="end" fill="#111">10</text><text x="399.3" y="711.6" font-size="6.3" font-weight="bold" fill="#111">7</text><text x="398.8" y="690.9" font-size="9" font-weight="bold" text-anchor="end" fill="#111">10</text><text x="399.3" y="688.0" font-size="6.3" font-weight="bold" fill="#111">8</text><text x="398.8" y="667.4" font-size="9" font-weight="bold" text-anchor="end" fill="#111">10</text><text x="399.3" y="664.5" font-size="6.3" font-weight="bold" fill="#111">9</text><text x="398.8" y="643.8" font-size="9" font-weight="bold" text-anchor="end" fill="#111">10</text><text x="399.3" y="640.9" font-size="6.3" font-weight="bold" fill="#111">10</text><line x1="408.5" y1="781.9" x2="408.5" y2="784" stroke="#444" stroke-width="0.8"/><text x="408.5" y="793.3" font-size="9" font-weight="bold" text-anchor="middle" fill="#111">0</text><line x1="458.9" y1="781.9" x2="458.9" y2="784" stroke="#444" stroke-width="0.8"/><text x="458.9" y="793.3" font-size="9" font-weight="bold" text-anchor="middle" fill="#111">10</text><line x1="509.3" y1="781.9" x2="509.3" y2="784" stroke="#444" stroke-width="0.8"/><text x="509.3" y="793.3" font-size="9" font-weight="bold" text-anchor="middle" fill="#111">20</text><line x1="559.7" y1="781.9" x2="559.7" y2="784" stroke="#444" stroke-width="0.8"/><text x="559.7" y="793.3" font-size="9" font-weight="bold" text-anchor="middle" fill="#111">30</text><line x1="610.1" y1="781.9" x2="610.1" y2="784" stroke="#444" stroke-width="0.8"/><text x="610.1" y="793.3" font-size="9" font-weight="bold" text-anchor="middle" fill="#111">40</text><text x="512.4" y="809.3" font-size="9.3" font-weight="bold" text-anchor="middle" fill="#111">Days post treatment</text><text transform="translate(373.7,713.2) rotate(-90)" font-size="9.3" font-weight="bold" text-anchor="middle" fill="#111">Total photon flux of CNS</text><text transform="translate(383.6,713.3) rotate(-90)" font-size="9.3" font-weight="bold" text-anchor="middle" fill="#111">(photon/sec)</text><line x1="410.2" y1="707.7" x2="410.2" y2="737.2" stroke="#b4b4b4" stroke-width="0.6" stroke-dasharray="2.5,1"/><line x1="430.5" y1="698.9" x2="430.5" y2="741.2" stroke="#b4b4b4" stroke-width="0.6" stroke-dasharray="2.5,1"/><line x1="445.6" y1="686" x2="445.6" y2="741.2" stroke="#b4b4b4" stroke-width="0.6" stroke-dasharray="2.5,1"/><line x1="460.6" y1="690" x2="460.6" y2="750.4" stroke="#b4b4b4" stroke-width="0.6" stroke-dasharray="2.5,1"/><line x1="506.2" y1="668.4" x2="506.2" y2="766.7" stroke="#b4b4b4" stroke-width="0.6" stroke-dasharray="2.5,1"/><line x1="536.7" y1="650.7" x2="536.7" y2="715.6" stroke="#b4b4b4" stroke-width="0.6" stroke-dasharray="2.5,1"/><line x1="536.7" y1="734.3" x2="536.7" y2="747" stroke="#b4b4b4" stroke-width="0.6" stroke-dasharray="2.5,1"/><line x1="561.3" y1="690" x2="561.3" y2="718.5" stroke="#b4b4b4" stroke-width="0.6" stroke-dasharray="2.5,1"/><line x1="586.5" y1="693" x2="586.5" y2="715.6" stroke="#b4b4b4" stroke-width="0.6" stroke-dasharray="2.5,1"/><line x1="612.1" y1="694" x2="612.1" y2="718.5" stroke="#b4b4b4" stroke-width="0.6" stroke-dasharray="2.5,1"/><line x1="408" y1="758.9" x2="612.5" y2="758.9" stroke="#a0a0a0" stroke-width="0.8" stroke-dasharray="1.8,2"/><polyline points="410.2,711.3 430.5,702.2 445.6,691.0 460.6,694.0 506.2,671.9 536.7,654.0" fill="none" stroke="#6a34ac" stroke-width="1.0" stroke-linejoin="round"/><polyline points="410.2,729.9 430.5,713.6 445.6,700.4 460.6,695.5 506.2,681.5 536.7,666.0" fill="none" stroke="#4068cc" stroke-width="1.0" stroke-linejoin="round"/><polyline points="410.2,722.9 430.5,713.6 445.6,709.1 460.6,703.2 506.2,678.8 536.7,681.5" fill="none" stroke="#4aaa40" stroke-width="1.4" stroke-linejoin="round"/><polyline points="410.2,726.4 430.5,717.5 445.6,714.6 460.6,715.0 506.2,706.7 536.7,690.4 561.3,696.9 586.5,699.8 612.1,700.8" fill="none" stroke="#dc7a36" stroke-width="1.4" stroke-linejoin="round"/><polyline points="410.2,726.0 430.5,732.7 445.6,730.5 460.6,732.7 506.2,758.9 536.7,739.2 561.3,751.6 586.5,753.9 612.1,752.4" fill="none" stroke="#d41c22" stroke-width="1.6" stroke-linejoin="round"/><line x1="589.2" y1="703.2" x2="589.2" y2="750.4" stroke="#444" stroke-width="0.9"/><line x1="615.8" y1="703.2" x2="615.8" y2="750.4" stroke="#444" stroke-width="0.9"/><text x="592.6" y="731.6" font-size="9" fill="#222">**</text><text x="620" y="731.6" font-size="9" fill="#222">*</text><text x="617" y="763.3" font-size="7.55" fill="#222">Mean&#160; background photon</text><text x="661.4" y="772.4" font-size="7.55" text-anchor="middle" fill="#222">(n=6)</text><line x1="624.7" y1="637.8" x2="655" y2="637.8" stroke="#6a34ac" stroke-width="1.5"/><text x="659.7" y="640.9" font-size="8.5" font-weight="bold" fill="#5a2c96">No treatment (n=4)</text><line x1="624.7" y1="655" x2="655" y2="655" stroke="#4068cc" stroke-width="1.5"/><text x="659.7" y="658.1" font-size="8.5" font-weight="bold" fill="#3a5cc0">Medium i.c.v. (n=5)</text><line x1="624.7" y1="672" x2="655" y2="672" stroke="#4aaa40" stroke-width="1.5"/><text x="659.7" y="675.1" font-size="8.5" font-weight="bold" fill="#44a03c">Mock T i.c.v. (n=5)</text><line x1="624.7" y1="688.8" x2="655" y2="688.8" stroke="#dc7a36" stroke-width="1.5"/><text x="659.7" y="691.9" font-size="8.5" font-weight="bold" fill="#d0783a">CAR T i.v. (n=5)</text><line x1="624.7" y1="706.2" x2="655" y2="706.2" stroke="#d41c22" stroke-width="1.5"/><text x="659.7" y="709.3" font-size="8.5" font-weight="bold" fill="#c8202a">CAR T i.c.v. (n=6)</text><text x="698.3" y="723.7" font-size="6.5" font-style="italic" fill="#333">**: p&lt;0.01</text><text x="698.3" y="731.7" font-size="6.5" font-style="italic" fill="#333">* : p&lt;0.05</text>
</svg>
</body></html>
